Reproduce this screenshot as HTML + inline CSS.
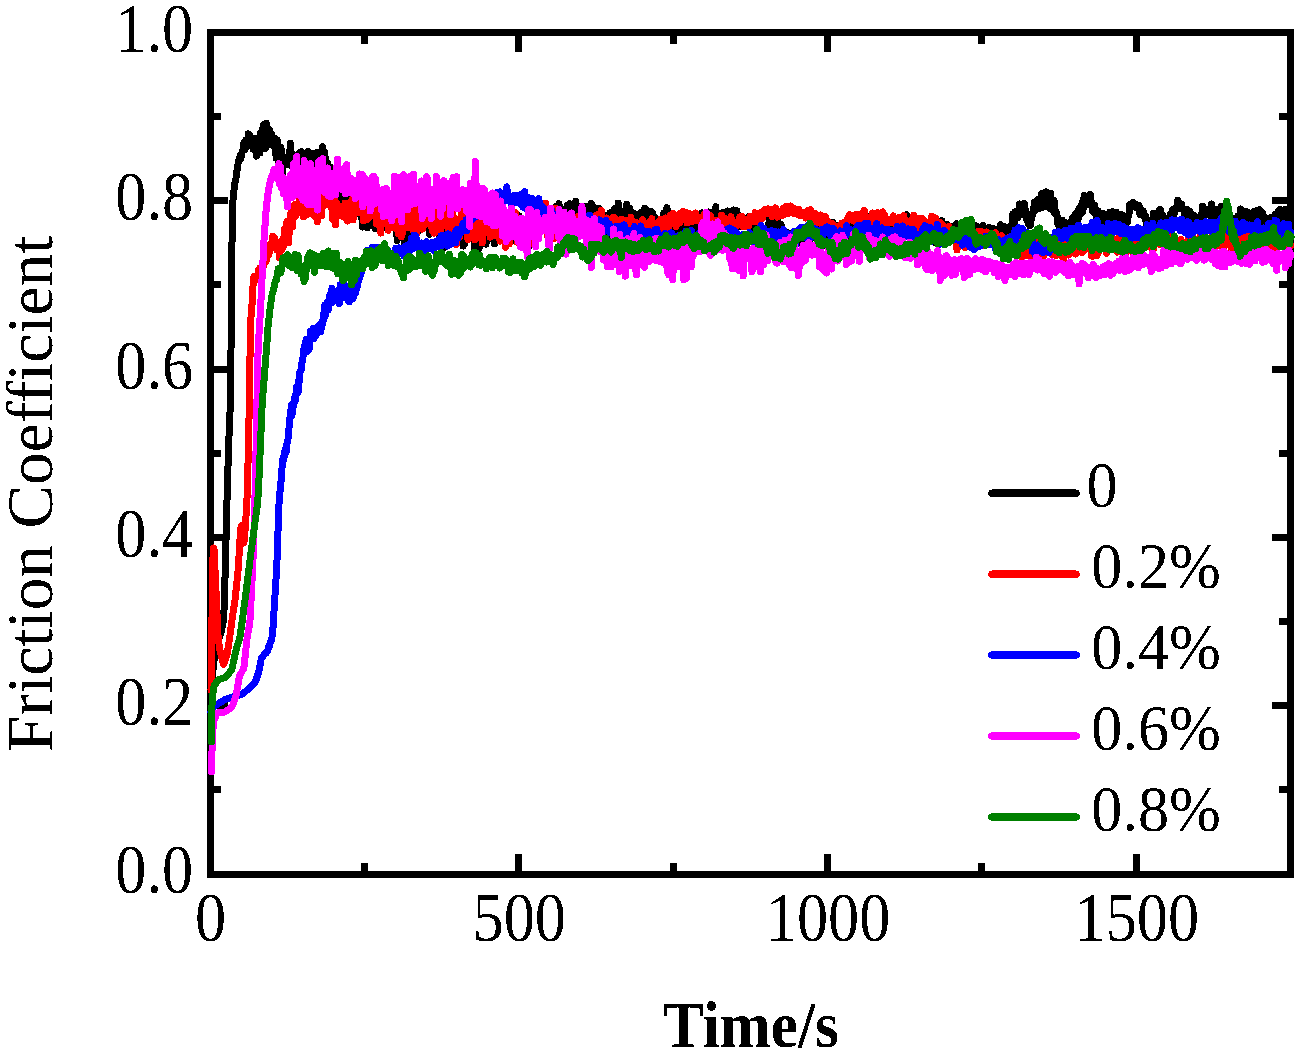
<!DOCTYPE html>
<html><head><meta charset="utf-8"><style>
html,body{margin:0;padding:0;background:#fff;}
svg{display:block;}
text{font-family:"Liberation Serif",serif;font-variant-ligatures:none;}
</style></head><body>
<svg width="1306" height="1054" viewBox="0 0 1306 1054">
<defs><filter id="bin" x="0" y="0" width="100%" height="100%" filterUnits="userSpaceOnUse"><feComponentTransfer><feFuncA type="discrete" tableValues="0 1"/></feComponentTransfer></filter></defs>
<rect width="1306" height="1054" fill="#fff"/>
<rect x="210" y="32.5" width="1080.5" height="841.5" fill="none" stroke="#000" stroke-width="7" shape-rendering="crispEdges"/>
<path d="M364.2 871V862.5M364.2 35V43.5M518.6 871V854M518.6 35V52M673.0 871V862.5M673.0 35V43.5M827.3 871V854M827.3 35V52M981.7 871V862.5M981.7 35V43.5M1136.1 871V854M1136.1 35V52M212 789.7H221M1288 789.7H1279M212 705.5H228M1288 705.5H1272M212 621.4H221M1288 621.4H1279M212 537.3H228M1288 537.3H1272M212 453.1H221M1288 453.1H1279M212 369.0H228M1288 369.0H1272M212 284.9H221M1288 284.9H1279M212 200.8H228M1288 200.8H1272M212 116.6H221M1288 116.6H1279" stroke="#000" stroke-width="7" stroke-linecap="butt" fill="none" shape-rendering="crispEdges"/>
<g fill="#000" filter="url(#bin)"><text transform="translate(193.20,893.30) scale(0.89,1)" font-size="70" text-anchor="end">0.0</text><text transform="translate(193.20,725.04) scale(0.89,1)" font-size="70" text-anchor="end">0.2</text><text transform="translate(193.20,556.78) scale(0.89,1)" font-size="70" text-anchor="end">0.4</text><text transform="translate(193.20,388.52) scale(0.89,1)" font-size="70" text-anchor="end">0.6</text><text transform="translate(193.20,220.26) scale(0.89,1)" font-size="70" text-anchor="end">0.8</text><text transform="translate(193.20,52.00) scale(0.89,1)" font-size="70" text-anchor="end">1.0</text><text transform="translate(210.50,941.20) scale(0.89,1)" font-size="70" text-anchor="middle">0</text><text transform="translate(519.27,941.20) scale(0.89,1)" font-size="70" text-anchor="middle">500</text><text transform="translate(828.04,941.20) scale(0.89,1)" font-size="70" text-anchor="middle">1000</text><text transform="translate(1136.81,941.20) scale(0.89,1)" font-size="70" text-anchor="middle">1500</text>
<text transform="translate(52.1,752) rotate(-90) scale(0.991,1)" font-size="66" style="font-variant-ligatures:none">Friction Coefficient</text>
<text transform="translate(663.08,1046.80) scale(0.93,1)" font-size="65.85" font-weight="bold">Time/s</text></g>
<g fill="none" stroke-width="7" stroke-linejoin="round" stroke-linecap="round" shape-rendering="crispEdges"><path d="M210.0 712.0l0.6 -9.1 0.6 -9 0.7 -8.6 0.6 -8.2 0.6 -7.9 0.6 -5.5 0.6 -5.6 0.6 -5.6 0.7 -2.5 0.6 -2.3 0.6 -2.3 0.6 -2.2 0.6 -2.3 0.6 -1.6 0.7 -1.7 0.6 -1.6 0.6 -1.7 0.6 -1.9 0.6 -3.2 0.7 -3.3 0.6 -3.5 0.6 -3.7 0.6 -13.2 0.6 -19.6 0.6 -24 0.7 -25 0.6 -25.3 0.6 -23 0.6 -18.9 0.6 -19.8 0.6 -16.4 0.7 -16.2 0.6 -14.1 0.6 -52.3 0.6 -65.2 0.6 -62.3 0.6 -21 0.7 -7.1 0.6 -6.5 0.6 -4.3 0.6 -3.9 0.6 -1.4 0.7 -6.6 0.6 -3.3 0.6 -3.5 0.6 -4.4 0.6 0.6 0.6 -2.7 0.7 -4.4 0.6 3.7 0.6 -2.7 0.6 -3.5 0.6 -2.6 0.6 0.6 0.7 -8 0.6 6 0.6 1.3 0.6 -9.6 0.6 6.9 0.7 -7.5 0.6 2.3 0.6 -8 0.6 2 0.6 2.8 0.6 -3.1 0.7 7.7 0.6 -5.7 0.6 8.3 0.6 -4.7 0.6 8 0.6 -3 0.7 -7.1 0.6 6.1 0.6 4.6 0.6 6.4 0.6 -17.8 0.7 15.4 0.6 -0.6 0.6 -5.2 0.6 -7.8 0.6 12.8 0.6 -19.7 0.7 10.4 0.6 3.2 0.6 -17.6 0.6 7.5 0.6 -11.9 0.6 10.6 0.7 13 0.6 -0.2 0.6 -25 0.6 9.3 0.6 6.4 0.6 6 0.7 -5.8 0.6 -9.4 0.6 9 0.6 0.5 0.6 -3 0.7 -1.8 0.6 11 0.6 -0.4 0.6 -0.9 0.6 1.2 0.6 -7.2 0.7 7.9 0.6 11.9 0.6 -11.3 0.6 -6.4 0.6 19.8 0.6 -3.2 0.7 8.2 0.6 -11.6 0.6 0 0.6 -5.8 0.6 19.4 0.7 10.1 0.6 -21.3 0.6 2 0.6 6.1 0.6 -6.6 0.6 2.4 0.7 -2.4 0.6 2.7 0.6 4.6 0.6 -5.7 0.6 5.8 0.6 -10.8 0.7 2.7 0.6 -13.4 0.6 4.9 0.6 13 0.6 -2.3 0.7 8.6 0.6 -1 0.6 5.5 0.6 -0.6 0.6 1.1 0.6 -11.4 0.7 -3.7 0.6 -0.5 0.6 5.9 0.6 -8.8 0.6 6.7 0.6 1.7 0.7 3.8 0.6 -4.9 0.6 -9.6 0.6 13.3 0.6 1.3 0.6 7.2 0.7 -4 0.6 -9.1 0.6 -1.6 0.6 15.3 0.6 -8.3 0.7 9.7 0.6 -1.4 0.6 -22.5 0.6 7.6 0.6 4.7 0.6 3 0.7 2.8 0.6 0.5 0.6 -2.6 0.6 -10.8 0.6 1.6 0.6 -5.1 0.7 7.3 0.6 -7.5 0.6 2.4 0.6 -1.1 0.6 -1.7 0.7 3.9 0.6 5.7 0.6 0.2 0.6 -2.1 0.6 -7.9 0.6 6.9 0.7 0.8 0.6 0 0.6 -13.4 0.6 14.4 0.6 -10.2 0.6 0.5 0.7 5.7 0.6 1.2 0.6 6.8 0.6 -3.1 0.6 2.4 0.7 -0.9 0.6 12.5 0.6 -6.6 0.6 -2.8 0.6 8.7 0.6 -7.6 0.7 22.3 0.6 -20.3 0.6 12.2 0.6 2.5 0.6 -12.7 0.6 13.3 0.7 8.7 0.6 -1 0.6 -3.4 0.6 7.1 0.6 -10.4 0.6 4.1 0.7 4.3 0.6 6.3 0.6 -10.2 0.6 12.3 0.6 -7.1 0.7 -5.6 0.6 12.2 0.6 8.6 0.6 -6.3 0.6 -9.9 0.6 8.8 0.7 -12.6 0.6 8.8 0.6 2.3 0.6 -21.4 0.6 21.6 0.6 -8.1 0.7 3.5 0.6 -3 0.6 -2.2 0.6 -3.2 0.6 13.7 0.7 8 0.6 -8 0.6 6.9 0.6 -9.1 0.6 -9.3 0.6 14.9 0.7 2.2 0.6 -5 0.6 2.9 0.6 6.8 0.6 -12.4 0.6 -3.8 0.7 8.4 0.6 -1.4 0.6 1.1 0.6 12.6 0.6 9.4 0.7 -13.6 0.6 6.5 0.6 3.9 0.6 -5.7 0.6 2.6 0.6 -8.6 0.7 9.5 0.6 5.9 0.6 -12.5 0.6 -5 0.6 7.4 0.6 0.3 0.7 -9 0.6 -5.7 0.6 18.8 0.6 -19.1 0.6 15.9 0.6 -2.8 0.7 -6.9 0.6 19.6 0.6 -7.3 0.6 -9.8 0.6 11.3 0.7 -8.7 0.6 -8.2 0.6 6.4 0.6 7.3 0.6 0.8 0.6 -3 0.7 -1.7 0.6 6.5 0.6 -4.1 0.6 10.2 0.6 -2.4 0.6 -6.8 0.7 -0.6 0.6 -17.9 0.6 3.5 0.6 17.7 0.6 -5.8 0.7 -3 0.6 2.5 0.6 -0.4 0.6 6.3 0.6 -7.2 0.6 3.8 0.7 -11.4 0.6 19.2 0.6 -13.7 0.6 -6.4 0.6 10.3 0.6 -2.9 0.7 7.4 0.6 -11.5 0.6 8 0.6 23.7 0.6 -33.1 0.7 11.8 0.6 -5.3 0.6 4 0.6 -14.9 0.6 0.6 0.6 13.8 0.7 -5.5 0.6 11.7 0.6 -13.5 0.6 6.6 0.6 26.6 0.6 -29.1 0.7 -2.8 0.6 6.5 0.6 3.8 0.6 5.5 0.6 -8.7 0.6 -2.7 0.7 4.3 0.6 16.4 0.6 -6.8 0.6 -29.5 0.6 17.2 0.7 -3.5 0.6 9.9 0.6 -4.4 0.6 12 0.6 -6.8 0.6 -2.8 0.7 -8.4 0.6 3.9 0.6 4.2 0.6 9.2 0.6 -7.7 0.6 -5.8 0.7 10.8 0.6 -10.8 0.6 0.1 0.6 -6.4 0.6 1.5 0.7 -3.9 0.6 -11.3 0.6 28.5 0.6 -1.7 0.6 -7.5 0.6 7.6 0.7 -0.5 0.6 -1 0.6 -18.3 0.6 15.7 0.6 2.4 0.6 11.7 0.7 -3.6 0.6 -1.8 0.6 -17.4 0.6 -10.9 0.6 20.3 0.7 -1.8 0.6 6.8 0.6 -9.1 0.6 4 0.6 -8.4 0.6 13.9 0.7 -1.5 0.6 7.3 0.6 2.3 0.6 -0.9 0.6 0.4 0.6 -4.1 0.7 6.1 0.6 -0.9 0.6 -3.8 0.6 1.9 0.6 15.2 0.6 -12.9 0.7 5.8 0.6 -5.8 0.6 -8.2 0.6 0.6 0.6 4 0.7 -0.4 0.6 2.4 0.6 -14.2 0.6 3.7 0.6 -2.4 0.6 12.6 0.7 -27 0.6 19.5 0.6 -5.3 0.6 1.8 0.6 0.6 0.6 6.2 0.7 8.5 0.6 -12.7 0.6 2.5 0.6 1 0.6 -8.3 0.7 9.6 0.6 -1.5 0.6 -4.9 0.6 2.9 0.6 2.4 0.6 7.3 0.7 -5.8 0.6 2.6 0.6 13.2 0.6 -4 0.6 2.2 0.6 -5.8 0.7 -4.5 0.6 -2 0.6 -1 0.6 7.3 0.6 -4.8 0.7 -9.6 0.6 10.9 0.6 -7.3 0.6 10.7 0.6 -8.1 0.6 -1.8 0.7 8.2 0.6 1.1 0.6 -15.9 0.6 16.9 0.6 16.8 0.6 -28.9 0.7 25.3 0.6 -21.5 0.6 2.1 0.6 6 0.6 -5.2 0.6 15.1 0.7 -9.2 0.6 -12 0.6 5 0.6 -9.2 0.6 7.7 0.7 9.1 0.6 -16.4 0.6 9.6 0.6 4 0.6 1.5 0.6 5.7 0.7 -19.1 0.6 1.5 0.6 6.3 0.6 -5.7 0.6 -0.8 0.6 8.4 0.7 4.3 0.6 -9.8 0.6 -5.4 0.6 7.6 0.6 -17.3 0.7 16 0.6 -7.1 0.6 20.9 0.6 -9.6 0.6 -1.4 0.6 -4.6 0.7 -15.7 0.6 24.8 0.6 3.3 0.6 -17.4 0.6 9.9 0.6 -2.6 0.7 -20.5 0.6 12.9 0.6 4.8 0.6 -4.7 0.6 0.3 0.7 7.1 0.6 -17.7 0.6 12.9 0.6 9.6 0.6 -16.4 0.6 17.2 0.7 -10 0.6 -10.1 0.6 13.7 0.6 -9.3 0.6 12.2 0.6 -11.8 0.7 14.2 0.6 -12.7 0.6 8.4 0.6 -5 0.6 1.7 0.6 13.3 0.7 -6 0.6 -5.2 0.6 -13 0.6 15.2 0.6 -3.1 0.7 -8.6 0.6 2 0.6 -6.1 0.6 3.1 0.6 6 0.6 10 0.7 -2.7 0.6 -6.4 0.6 5.7 0.6 1.9 0.6 -3.3 0.6 3.6 0.7 -8.9 0.6 0.3 0.6 1.9 0.6 0 0.6 12.3 0.7 -11.8 0.6 18.3 0.6 -14.6 0.6 1.9 0.6 -3.3 0.6 10.1 0.7 3.9 0.6 -2.8 0.6 -1.1 0.6 -16.1 0.6 5.2 0.6 -2.2 0.7 -3.9 0.6 15.1 0.6 -9.1 0.6 -3.6 0.6 5.8 0.7 -8.6 0.6 2 0.6 -5.9 0.6 8.3 0.6 -4.3 0.6 -1.9 0.7 4.1 0.6 -11.8 0.6 1.1 0.6 1.8 0.6 -10 0.6 5 0.7 6.5 0.6 6.2 0.6 1.3 0.6 -7 0.6 -2.7 0.6 13 0.7 -3.8 0.6 2.3 0.6 5.9 0.6 -7.7 0.6 -4.9 0.7 1.6 0.6 6.2 0.6 -2.9 0.6 -3.3 0.6 -1.1 0.6 -14.2 0.7 5.8 0.6 3.9 0.6 -9.1 0.6 -3.5 0.6 5.1 0.6 2 0.7 3.1 0.6 -4.2 0.6 8.3 0.6 8.6 0.6 -14.3 0.7 9 0.6 -5.7 0.6 -5.8 0.6 2.1 0.6 -1.4 0.6 8.8 0.7 -14.1 0.6 17.1 0.6 -5 0.6 -13.3 0.6 15.5 0.6 6.8 0.7 -10.6 0.6 12 0.6 -14.1 0.6 7.4 0.6 -14.1 0.7 12.3 0.6 -14.2 0.6 -3.3 0.6 17 0.6 7.5 0.6 -17.4 0.7 5.9 0.6 -5.1 0.6 -1.9 0.6 7.2 0.6 8.7 0.6 -17.1 0.7 8.7 0.6 2.5 0.6 -7.5 0.6 16.6 0.6 -3.2 0.6 -17.1 0.7 15 0.6 -9.7 0.6 3.3 0.6 9 0.6 -6.1 0.7 -1.7 0.6 4.2 0.6 -2.2 0.6 -2.9 0.6 -11.9 0.6 0.3 0.7 14.7 0.6 -8.2 0.6 2.9 0.6 -5.5 0.6 5.2 0.6 -2.3 0.7 14.3 0.6 -12.9 0.6 2.8 0.6 0.5 0.6 7.8 0.7 -14.6 0.6 6.1 0.6 -0.8 0.6 4.9 0.6 -2.5 0.6 -2.8 0.7 2.9 0.6 0.7 0.6 6.8 0.6 -4 0.6 -4.4 0.6 7.7 0.7 2.7 0.6 9.9 0.6 -15.2 0.6 3.2 0.6 6.8 0.7 -17 0.6 -0.6 0.6 4.8 0.6 5.3 0.6 10.3 0.6 -8.7 0.7 3.3 0.6 -6.1 0.6 -12.8 0.6 1 0.6 13.1 0.6 -3.6 0.7 -10.6 0.6 12.5 0.6 -18.2 0.6 13.7 0.6 3.4 0.6 -9.9 0.7 0.9 0.6 7.7 0.6 -6.4 0.6 12.9 0.6 -12.8 0.7 8.4 0.6 -4.6 0.6 -2.4 0.6 -1.8 0.6 1 0.6 -8.9 0.7 8 0.6 -2.2 0.6 7.8 0.6 -9.9 0.6 17.4 0.6 -8.8 0.7 -4.7 0.6 15.1 0.6 2.9 0.6 -10.3 0.6 -6.7 0.7 3.7 0.6 -2 0.6 1.6 0.6 13 0.6 -5.4 0.6 -0.9 0.7 1.7 0.6 -3.9 0.6 4.3 0.6 -1.1 0.6 -10.6 0.6 -0.7 0.7 13.7 0.6 -10.3 0.6 -2.7 0.6 8.9 0.6 -10.6 0.7 -3.3 0.6 9.7 0.6 -8.4 0.6 5.6 0.6 4.3 0.6 -2.7 0.7 -0.6 0.6 -2.2 0.6 1.3 0.6 6.9 0.6 -10.6 0.6 0 0.7 13.9 0.6 -12.2 0.6 11.2 0.6 0 0.6 -4.3 0.6 -3 0.7 10.6 0.6 2.3 0.6 0.4 0.6 -6.9 0.6 6.8 0.7 0.8 0.6 -10.6 0.6 8.6 0.6 -1.1 0.6 -6.5 0.6 1.2 0.7 12.7 0.6 -7.4 0.6 -15 0.6 5.5 0.6 -3.5 0.6 -3.3 0.7 -0.7 0.6 -3.4 0.6 11.6 0.6 -5.9 0.6 5.9 0.7 -1 0.6 -0.9 0.6 7 0.6 -2.5 0.6 -2.5 0.6 -0.8 0.7 1.7 0.6 6.8 0.6 -3 0.6 -0.2 0.6 -2.2 0.6 0.3 0.7 5.1 0.6 -8.3 0.6 14.2 0.6 -12.4 0.6 2.4 0.7 8.5 0.6 -4 0.6 -0.5 0.6 -2.2 0.6 -5.3 0.6 9.1 0.7 5.8 0.6 -13.7 0.6 9.5 0.6 -14.4 0.6 5.5 0.6 6.7 0.7 -1.9 0.6 3.7 0.6 -8.3 0.6 -2.9 0.6 -2.5 0.6 2.4 0.7 3.5 0.6 -1.8 0.6 8.4 0.6 -5.8 0.6 -7.1 0.7 22.1 0.6 -14 0.6 1.8 0.6 9.4 0.6 -0.6 0.6 -10.8 0.7 -4.1 0.6 0.6 0.6 9.3 0.6 -12.1 0.6 -1.2 0.6 3.8 0.7 5.8 0.6 -12.7 0.6 5.4 0.6 -0.6 0.6 17.3 0.7 -0.7 0.6 -5.8 0.6 -5.1 0.6 2.7 0.6 -14 0.6 9.4 0.7 -9.5 0.6 0.9 0.6 4.1 0.6 2.3 0.6 2.8 0.6 1 0.7 -7 0.6 -3.8 0.6 7.5 0.6 -3.3 0.6 8 0.7 -10.7 0.6 -7 0.6 9.4 0.6 12.8 0.6 -8.8 0.6 -2.7 0.7 7.1 0.6 -3.3 0.6 -1.6 0.6 -4.9 0.6 3.3 0.6 5.3 0.7 -5 0.6 -5.8 0.6 4.6 0.6 1.2 0.6 -2 0.6 -0.1 0.7 -1.2 0.6 8.5 0.6 -12.6 0.6 4.5 0.6 3.5 0.7 -5.6 0.6 3.3 0.6 2.3 0.6 2.7 0.6 -5.3 0.6 2 0.7 -3.5 0.6 -5 0.6 13.3 0.6 -5.6 0.6 -5.4 0.6 6.8 0.7 -8.2 0.6 4.9 0.6 4.8 0.6 -3.3 0.6 9.4 0.7 -9 0.6 4 0.6 2.2 0.6 2.9 0.6 -1.7 0.6 -3.6 0.7 -1.6 0.6 1.3 0.6 4.9 0.6 -7.1 0.6 4.5 0.6 -1.8 0.7 1.6 0.6 -5.1 0.6 8.6 0.6 -10.3 0.6 5.3 0.7 2.7 0.6 0.3 0.6 2.7 0.6 0.3 0.6 3 0.6 -9.9 0.7 5.1 0.6 -2.3 0.6 5.3 0.6 -5.1 0.6 2.6 0.6 5.8 0.7 3.1 0.6 -3.2 0.6 -0.9 0.6 6.6 0.6 -5.1 0.6 -4.6 0.7 6 0.6 1.3 0.6 6.5 0.6 1.4 0.6 -10.8 0.7 11 0.6 -6.2 0.6 -4.6 0.6 -1.2 0.6 8.5 0.6 -11.5 0.7 -4.2 0.6 2.6 0.6 -9.7 0.6 8.1 0.6 0 0.6 -2 0.7 1.9 0.6 -4.7 0.6 11.1 0.6 -7.5 0.6 6.8 0.7 -8.3 0.6 8.6 0.6 -3.7 0.6 3.3 0.6 -4.3 0.6 -4.5 0.7 4.1 0.6 7 0.6 2 0.6 -7.6 0.6 -3.2 0.6 5.6 0.7 2.1 0.6 -2.4 0.6 1.7 0.6 8.4 0.6 -0.5 0.6 -2.4 0.7 -4.4 0.6 2.3 0.6 2.9 0.6 -4.9 0.6 9.2 0.7 -4.9 0.6 -2.3 0.6 8.1 0.6 -2 0.6 -0.7 0.6 4.4 0.7 -1.1 0.6 -7.9 0.6 1.9 0.6 4.3 0.6 -4.8 0.6 1.5 0.7 1.1 0.6 2.3 0.6 1.1 0.6 -1.9 0.6 -2.9 0.7 4.5 0.6 -2.6 0.6 -1.8 0.6 6.4 0.6 -5.1 0.6 -3.8 0.7 11.1 0.6 -5.9 0.6 3.3 0.6 -10 0.6 5.5 0.6 -4.5 0.7 0.6 0.6 -3.9 0.6 12.5 0.6 -6.9 0.6 0.7 0.7 1.5 0.6 -4.5 0.6 0.8 0.6 -6.2 0.6 5.4 0.6 -2.8 0.7 4.2 0.6 -3 0.6 -4.2 0.6 -4.5 0.6 5.4 0.6 6.5 0.7 -1.6 0.6 -1.1 0.6 -7.8 0.6 -2.7 0.6 7.2 0.6 2.5 0.7 -1.7 0.6 3.1 0.6 -1.3 0.6 -2.2 0.6 0.7 0.7 3.7 0.6 -0.4 0.6 0.4 0.6 10.1 0.6 -10.6 0.6 0.9 0.7 -4.2 0.6 2.9 0.6 4.9 0.6 -0.2 0.6 -2.7 0.6 3.2 0.7 -3.4 0.6 -8.3 0.6 -5.8 0.6 19.9 0.6 -5.1 0.7 -4.1 0.6 -3.6 0.6 0.4 0.6 9 0.6 -13.4 0.6 9.6 0.7 3.9 0.6 -2.3 0.6 3 0.6 -3.6 0.6 8.8 0.6 -13.1 0.7 -1.4 0.6 3.3 0.6 2.8 0.6 -6.8 0.6 5.8 0.7 -6.3 0.6 -1.8 0.6 7.9 0.6 0.5 0.6 -0.4 0.6 -8.1 0.7 -1.2 0.6 -2.3 0.6 4.6 0.6 6.7 0.6 -1.5 0.6 -7 0.7 3.6 0.6 -0.5 0.6 -2.1 0.6 0.8 0.6 -1.1 0.6 0.5 0.7 -3.1 0.6 -1.4 0.6 -3 0.6 5.7 0.6 -1.9 0.7 -8.3 0.6 8.6 0.6 -1.9 0.6 1.4 0.6 -2.3 0.6 1.4 0.7 -1.9 0.6 1.6 0.6 -3.3 0.6 -4.4 0.6 15.3 0.6 -14.1 0.7 2.4 0.6 2.8 0.6 -1.7 0.6 1.3 0.6 0.8 0.7 1.8 0.6 -3.3 0.6 9.8 0.6 -14.5 0.6 5.7 0.6 -1.5 0.7 -1.4 0.6 6.1 0.6 2.9 0.6 -6.2 0.6 -0.7 0.6 6.1 0.7 0.4 0.6 6.5 0.6 -1.1 0.6 -4.1 0.6 2.1 0.7 2.3 0.6 -2.8 0.6 -6.2 0.6 8.2 0.6 1.4 0.6 -0.6 0.7 0 0.6 9 0.6 -3.9 0.6 -0.2 0.6 -6 0.6 -0.7 0.7 2.3 0.6 -0.2 0.6 -1.3 0.6 -2.2 0.6 3 0.6 -0.6 0.7 -4.4 0.6 2.2 0.6 -0.8 0.6 4.3 0.6 -5.2 0.7 0.6 0.6 3.5 0.6 -6.7 0.6 -6 0.6 3.9 0.6 4.4 0.7 0.8 0.6 1.3 0.6 -3.2 0.6 -2.6 0.6 8.8 0.6 -5.2 0.7 -0.2 0.6 0.1 0.6 -4.2 0.6 2.2 0.6 3.3 0.7 1.4 0.6 -3.3 0.6 -12.2 0.6 9.2 0.6 4.2 0.6 3.1 0.7 -3.3 0.6 6.7 0.6 -4.9 0.6 0.9 0.6 0 0.6 -6.7 0.7 6.5 0.6 -0.9 0.6 -1.3 0.6 3.6 0.6 1.2 0.7 -1.2 0.6 -1.1 0.6 1.1 0.6 2.5 0.6 -1.4 0.6 5.4 0.7 -8.7 0.6 5.4 0.6 -4.6 0.6 3.3 0.6 3.9 0.6 -5 0.7 1.8 0.6 -0.5 0.6 5.9 0.6 -9.4 0.6 7 0.6 -8.7 0.7 3.6 0.6 -0.3 0.6 -4.4 0.6 5.5 0.6 0.4 0.7 -8.3 0.6 7.1 0.6 0.5 0.6 -3.6 0.6 5.9 0.6 -2.1 0.7 8.4 0.6 -7.5 0.6 8.6 0.6 -10.3 0.6 7.6 0.6 -7.2 0.7 2.1 0.6 0.6 0.6 0.1 0.6 2.2 0.6 1.2 0.7 -6.7 0.6 -4.2 0.6 -7.2 0.6 10.8 0.6 3.1 0.6 -2 0.7 -1.9 0.6 -2.2 0.6 -0.8 0.6 2.6 0.6 1 0.6 -7 0.7 8.2 0.6 -5.9 0.6 3 0.6 -1.3 0.6 2.2 0.7 -4.2 0.6 0 0.6 3.8 0.6 -4 0.6 12.7 0.6 -8.6 0.7 -0.4 0.6 -0.1 0.6 -1.9 0.6 -4.2 0.6 9.8 0.6 3.1 0.7 -5.6 0.6 7.4 0.6 -6.8 0.6 1.9 0.6 -2 0.6 1.6 0.7 -3.4 0.6 -4.1 0.6 6.9 0.6 -6.7 0.6 2 0.7 1.1 0.6 -2.4 0.6 -5.6 0.6 7.4 0.6 -5.1 0.6 1.1 0.7 -0.4 0.6 8.7 0.6 -3.4 0.6 -7.6 0.6 10 0.6 5.6 0.7 -1.6 0.6 -7.7 0.6 2.3 0.6 2.8 0.6 0 0.7 -3.2 0.6 -3.8 0.6 6.9 0.6 0.8 0.6 -6.8 0.6 4.3 0.7 4.5 0.6 -0.5 0.6 -0.3 0.6 -1.5 0.6 -0.3 0.6 -3.3 0.7 -4.4 0.6 6.5 0.6 4.2 0.6 3.3 0.6 -9.3 0.7 0.2 0.6 4.9 0.6 -1.8 0.6 -2.8 0.6 1.3 0.6 -4.4 0.7 8.3 0.6 -3.3 0.6 3.7 0.6 -0.7 0.6 -3.1 0.6 -4.2 0.7 3.6 0.6 3.7 0.6 -2.4 0.6 -1.4 0.6 5.9 0.6 -0.2 0.7 -0.3 0.6 -6.1 0.6 2.8 0.6 -3.1 0.6 -3.8 0.7 -2.2 0.6 5.5 0.6 -3 0.6 10.3 0.6 -8.3 0.6 0.1 0.7 0.3 0.6 6.9 0.6 -9.5 0.6 4.5 0.6 -1.2 0.6 1.6 0.7 1.1 0.6 3.5 0.6 -9 0.6 1.5 0.6 5.8 0.7 -9.4 0.6 0.3 0.6 -2.8 0.6 -8.7 0.6 6.7 0.6 3.2 0.7 -5.6 0.6 -6.6 0.6 4.7 0.6 -2.4 0.6 3.2 0.6 0.4 0.7 -5.8 0.6 1 0.6 -9 0.6 9.9 0.6 -4 0.7 3.3 0.6 0.9 0.6 -4 0.6 1.1 0.6 -3.4 0.6 -4.3 0.7 6.6 0.6 3.2 0.6 -1.2 0.6 8.2 0.6 1.3 0.6 1.9 0.7 -3.6 0.6 -4.1 0.6 10.2 0.6 -2.9 0.6 -4.2 0.6 -2.2 0.7 -1.6 0.6 -2.8 0.6 -3 0.6 -7.1 0.6 8.3 0.7 -8.8 0.6 2.1 0.6 -2 0.6 3.7 0.6 -5.8 0.6 9.2 0.7 -3.9 0.6 -0.8 0.6 1.8 0.6 -6.8 0.6 -5.7 0.6 11.1 0.7 2.9 0.6 -1.8 0.6 -6.7 0.6 0.3 0.6 -0.8 0.7 -6.6 0.6 3.6 0.6 2 0.6 7.9 0.6 -7 0.6 9.5 0.7 -7.5 0.6 -7 0.6 15.9 0.6 -10.3 0.6 4.6 0.6 5.1 0.7 -7.1 0.6 -0.8 0.6 12.6 0.6 -2.1 0.6 0.3 0.7 2.2 0.6 2.8 0.6 7.4 0.6 -2.9 0.6 5.4 0.6 6.3 0.7 0 0.6 2 0.6 -3.3 0.6 -11.3 0.6 10.8 0.6 -2.9 0.7 -0.6 0.6 -4 0.6 -0.6 0.6 3.6 0.6 3.6 0.6 -4 0.7 0.8 0.6 0.9 0.6 3.7 0.6 -5.2 0.6 -0.2 0.7 4.4 0.6 -9 0.6 2.9 0.6 -6.8 0.6 4.4 0.6 -2.4 0.7 0.1 0.6 -2.3 0.6 -3.9 0.6 2.3 0.6 -0.4 0.6 5.5 0.7 -2.6 0.6 -9.7 0.6 5.7 0.6 -6.2 0.6 6 0.7 -5.4 0.6 -5.5 0.6 9 0.6 -3.6 0.6 -9.9 0.6 -3.2 0.7 3.1 0.6 -2.4 0.6 1.5 0.6 3.1 0.6 3.7 0.6 -5.7 0.7 5.5 0.6 -0.8 0.6 -5.9 0.6 -3.2 0.6 9.7 0.7 -1.6 0.6 8.1 0.6 -3.2 0.6 0.7 0.6 4.4 0.6 -6.9 0.7 6.6 0.6 0.8 0.6 10.2 0.6 -1.4 0.6 -10.6 0.6 15.9 0.7 -10 0.6 5.9 0.6 -7.4 0.6 -0.3 0.6 1.4 0.6 -1.5 0.7 -1.7 0.6 9.4 0.6 -2 0.6 -2 0.6 3.1 0.7 -3 0.6 9.1 0.6 -5.7 0.6 0.4 0.6 -1.6 0.6 -5.9 0.7 -3 0.6 5.6 0.6 0.1 0.6 2.7 0.6 -2.6 0.6 -6.3 0.7 7.2 0.6 3.6 0.6 1 0.6 -3.7 0.6 -7.8 0.7 11.2 0.6 -6.4 0.6 3.1 0.6 -6 0.6 6.1 0.6 -5.9 0.7 6.6 0.6 2.2 0.6 -3.3 0.6 -4.7 0.6 0.4 0.6 1 0.7 5.7 0.6 -3.2 0.6 -1.4 0.6 0.4 0.6 1.7 0.7 -0.9 0.6 3.6 0.6 -7.3 0.6 1.1 0.6 -11.4 0.6 2.3 0.7 0.9 0.6 -3 0.6 0.7 0.6 1.4 0.6 -4.4 0.6 3.2 0.7 -1.2 0.6 1.3 0.6 -1.7 0.6 3.7 0.6 -1.4 0.6 -0.1 0.7 0.8 0.6 -1.8 0.6 1.3 0.6 7.9 0.6 -4.7 0.7 4.4 0.6 -2.1 0.6 -0.2 0.6 -1 0.6 2 0.6 3.6 0.7 -0.1 0.6 -0.4 0.6 7.6 0.6 -3.8 0.6 4.7 0.6 -3.5 0.7 1.5 0.6 -2.1 0.6 5 0.6 8.7 0.6 -6.6 0.7 -0.7 0.6 -5.5 0.6 -0.3 0.6 -7.9 0.6 1.2 0.6 3.2 0.7 2.8 0.6 -3.5 0.6 1.2 0.6 -2.9 0.6 0.7 0.6 -3.4 0.7 -2.2 0.6 2.3 0.6 -2.9 0.6 3.7 0.6 0.7 0.7 0.8 0.6 6 0.6 -2.1 0.6 1.3 0.6 -2.5 0.6 2.5 0.7 4.1 0.6 -1.4 0.6 -2.6 0.6 -1.4 0.6 -0.7 0.6 -0.9 0.7 5 0.6 -7.7 0.6 2.8 0.6 -0.4 0.6 -2.9 0.6 -4.1 0.7 6.6 0.6 -2.8 0.6 -0.1 0.6 -3.1 0.6 -0.2 0.7 -3.2 0.6 1.9 0.6 -8.6 0.6 8.2 0.6 -5.2 0.6 3.1 0.7 0.1 0.6 -2.4 0.6 -0.1 0.6 5 0.6 0.4 0.6 -0.3 0.7 0.5 0.6 6.3 0.6 -2.4 0.6 0 0.6 -4.3 0.7 7.8 0.6 -7.3 0.6 6.3 0.6 -3.1 0.6 10.1 0.6 -11.4 0.7 12.7 0.6 -0.8 0.6 -9.1 0.6 7.2 0.6 6.1 0.6 -1.4 0.7 -10.6 0.6 5.4 0.6 -1.7 0.6 2.2 0.6 0.4 0.7 7.7 0.6 -7.6 0.6 -1.7 0.6 -2.1 0.6 4.1 0.6 -0.2 0.7 -7.9 0.6 3.8 0.6 -11.9 0.6 4.8 0.6 2.2 0.6 4.4 0.7 -8.2 0.6 3 0.6 1.4 0.6 -4.6 0.6 0.3 0.6 0.7 0.7 -1 0.6 2.7 0.6 1.5 0.6 -4.5 0.6 7.6 0.7 -12.6 0.6 4.4 0.6 8.9 0.6 -3.7 0.6 -4.2 0.6 3.5 0.7 1.3 0.6 -4.9 0.6 5 0.6 -1.2 0.6 -2.1 0.6 2.3 0.7 4.5 0.6 -7.8 0.6 1.9 0.6 3 0.6 -8.3 0.7 0.6 0.6 7.8 0.6 -0.5 0.6 0.9 0.6 0.6 0.6 -4 0.7 13.7 0.6 -12.2 0.6 2.3 0.6 -3.1 0.6 4.7 0.6 6.9 0.7 -2.5 0.6 0.6 0.6 -2.2 0.6 9.9 0.6 -7.8 0.7 -4 0.6 7.3 0.6 -3.1 0.6 1.5 0.6 -1.5 0.6 -1.1 0.7 -0.9 0.6 -1.8 0.6 -2.5 0.6 5.6 0.6 -5.7 0.6 0.2 0.7 -0.9 0.6 -6.3 0.6 0.8 0.6 11.5 0.6 -7.1 0.6 2.2 0.7 -4.8 0.6 5.6 0.6 0.4 0.6 -2.2 0.6 -0.8 0.7 -2.9 0.6 0.4 0.6 3.4 0.6 0.4 0.6 -2.2 0.6 10 0.7 -5.3 0.6 -0.9 0.6 -2.8 0.6 4.4 0.6 -6.5 0.6 -0.7 0.7 1.5 0.6 7.1 0.6 -6.8 0.6 9.1 0.6 -5.8 0.7 -6.5 0.6 2.6 0.6 7.8 0.6 -9.6 0.6 -1.5 0.6 5.4 0.7 1.8 0.6 -1.3 0.6 -3.5 0.6 2.9 0.6 0.1 0.6 4 0.7 6.4 0.6 -7.7 0.6 8.1 0.6 -5.3 0.6 5.2 0.7 -6.3 0.6 2.2 0.6 2.4 0.6 -4.4 0.6 5.8 0.6 -8.1 0.7 0.4 0.6 1.2 0.6 -0.2 0.6 3.4 0.6 3.5 0.6 3 0.7 -14.8 0.6 4.6 0.6 -2.2 0.6 -3.1 0.6 3.4 0.6 -5.2 0.7 5 0.6 5.5 0.6 -12.4 0.6 7.9 0.6 2.4 0.7 -4.3 0.6 5.8 0.6 -2.2 0.6 -2.8 0.6 4.4 0.6 -11.2 0.7 8.8 0.6 -3.1 0.6 -3 0.6 2.3 0.6 1 0.6 7.5 0.7 -7.3 0.6 6.1 0.6 -2.6" stroke="#000000"/>
<path d="M211.0 690.0l0.6 -42.8 0.6 -42.7 0.7 -45.6 0.6 -10.9 0.6 1.8 0.6 12.9 0.6 12.8 0.6 12.9 0.7 13.3 0.6 18.6 0.6 12.3 0.6 5.6 0.6 5.6 0.6 4.8 0.7 2.6 0.6 2.7 0.6 2.6 0.6 2.6 0.6 2.6 0.7 2.7 0.6 -0.7 0.6 -1.8 0.6 -1.8 0.6 -1.7 0.6 -1.8 0.7 -2 0.6 -3.9 0.6 -4 0.6 -3.9 0.6 -4 0.6 -4.7 0.7 -4.7 0.6 -4.7 0.6 -4.7 0.6 -4.1 0.6 -4.1 0.6 -4.1 0.7 -4.1 0.6 -4.4 0.6 -5.7 0.6 -5.8 0.6 -5.8 0.7 -5.7 0.6 -7 0.6 -9.8 0.6 -9.9 0.6 -9.9 0.6 -9.9 0.7 -3.9 0.6 4.3 0.6 4.4 0.6 4.3 0.6 4.3 0.6 -3.1 0.7 -8.8 0.6 -9.2 0.6 -8.6 0.6 -8.9 0.6 -18 0.7 -27.2 0.6 -25.5 0.6 -29.1 0.6 -41 0.6 -37.1 0.6 -11.2 0.7 -8.1 0.6 -7.5 0.6 -13.7 0.6 -7.9 0.6 -1.6 0.6 0.7 0.7 -0.9 0.6 1.8 0.6 1.1 0.6 -4.1 0.6 -0.6 0.7 -4.6 0.6 -1.3 0.6 3.7 0.6 1.6 0.6 -0.9 0.6 -1.7 0.7 -1.3 0.6 -0.5 0.6 -9.5 0.6 0.8 0.6 2.3 0.6 -0.9 0.7 -8.9 0.6 6.6 0.6 -6.4 0.6 -0.8 0.6 1.4 0.6 0.4 0.7 -9.2 0.6 4.5 0.6 -4.1 0.6 -3 0.6 0.2 0.7 -6.9 0.6 3.4 0.6 2.1 0.6 -3.9 0.6 2.8 0.6 1.4 0.7 3.8 0.6 4.4 0.6 -5.7 0.6 -0.3 0.6 6 0.6 7.4 0.7 -8.9 0.6 1.8 0.6 -9.6 0.6 9.2 0.6 -2.3 0.7 -1.3 0.6 -9 0.6 -8.5 0.6 8.7 0.6 -2.2 0.6 -10.4 0.7 -3.7 0.6 10.7 0.6 -5.4 0.6 16.4 0.6 -22.6 0.6 -2.4 0.7 -0.7 0.6 -9.2 0.6 5.1 0.6 13.5 0.6 -12.6 0.7 -5.7 0.6 -3.7 0.6 12.3 0.6 -1.5 0.6 -3.3 0.6 -4.8 0.7 4.3 0.6 1.2 0.6 -10.6 0.6 7.6 0.6 -15.9 0.6 3.7 0.7 8.7 0.6 3.7 0.6 -8.7 0.6 8.3 0.6 7.1 0.6 -7 0.7 -3.3 0.6 1.3 0.6 -2.4 0.6 -9.5 0.6 7.5 0.7 10.8 0.6 -19.1 0.6 10.6 0.6 -3.1 0.6 -4.3 0.6 2.6 0.7 7.9 0.6 2 0.6 1.4 0.6 -9 0.6 7.6 0.6 5.4 0.7 -0.8 0.6 -4.1 0.6 5.1 0.6 5.5 0.6 -2.9 0.7 -14.6 0.6 3.3 0.6 -8.4 0.6 -13.7 0.6 1.8 0.6 28.5 0.7 -24.2 0.6 -10.6 0.6 10.3 0.6 14.1 0.6 -12 0.6 3.7 0.7 -3.2 0.6 -1.6 0.6 10.2 0.6 -2.7 0.6 -5.3 0.7 9.7 0.6 0.9 0.6 -6.7 0.6 8.6 0.6 0.7 0.6 -3.9 0.7 15.4 0.6 -9.5 0.6 -4.3 0.6 -7.8 0.6 6.9 0.6 20.4 0.7 -22.2 0.6 10.4 0.6 -4.7 0.6 4.9 0.6 2.2 0.6 -9.2 0.7 3.6 0.6 5.8 0.6 -3.1 0.6 -2.6 0.6 -2.8 0.7 7.7 0.6 2.2 0.6 -7 0.6 -7 0.6 7.6 0.6 -0.7 0.7 2.3 0.6 8.7 0.6 -14.5 0.6 4 0.6 -7 0.6 1.6 0.7 -3.5 0.6 15.6 0.6 -9.9 0.6 -8.1 0.6 20.7 0.7 -26.3 0.6 19 0.6 -0.6 0.6 -4.8 0.6 -3.4 0.6 2.8 0.7 -2 0.6 7.6 0.6 -23.4 0.6 14.2 0.6 5.9 0.6 -3 0.7 -10.8 0.6 12.2 0.6 -3.4 0.6 9.3 0.6 7.3 0.7 -6.3 0.6 -15.1 0.6 9.6 0.6 -6.9 0.6 14.2 0.6 3.7 0.7 -13.9 0.6 12.7 0.6 -2.2 0.6 -3.9 0.6 -9.2 0.6 3.6 0.7 -12.2 0.6 17.4 0.6 -8 0.6 11.9 0.6 -6.6 0.6 -17.6 0.7 20.6 0.6 3.2 0.6 8.5 0.6 -20.6 0.6 2 0.7 6.3 0.6 -7.2 0.6 -2.2 0.6 2.8 0.6 27.9 0.6 -21 0.7 -4.3 0.6 2.5 0.6 2.5 0.6 10.9 0.6 -0.9 0.6 -1.1 0.7 -6.7 0.6 0.4 0.6 -7 0.6 -5.1 0.6 27 0.7 -18 0.6 11.5 0.6 -9.6 0.6 4.1 0.6 -1.3 0.6 -8.3 0.7 10.7 0.6 2 0.6 6.6 0.6 -2.2 0.6 1.6 0.6 -3.6 0.7 -1.3 0.6 -13.6 0.6 10 0.6 14.8 0.6 -10.6 0.7 2.3 0.6 -7.2 0.6 -3.3 0.6 22.1 0.6 -13.2 0.6 9.6 0.7 -10.1 0.6 -7.7 0.6 -13 0.6 20.4 0.6 -11 0.6 -8 0.7 24 0.6 -5 0.6 2 0.6 -5.6 0.6 -0.1 0.6 4.4 0.7 -1.2 0.6 -1 0.6 5.6 0.6 -22.5 0.6 25.3 0.7 -11.8 0.6 12.6 0.6 5 0.6 -11 0.6 9.3 0.6 -0.1 0.7 -11.7 0.6 -1.3 0.6 3.9 0.6 -19.1 0.6 11.3 0.6 3.7 0.7 -3.5 0.6 -10.6 0.6 8.3 0.6 14.3 0.6 -3 0.7 -12.9 0.6 -7.6 0.6 5.2 0.6 3.7 0.6 -7.9 0.6 4.9 0.7 6 0.6 1.2 0.6 -23.2 0.6 27.3 0.6 -4.7 0.6 8 0.7 -6.9 0.6 2.4 0.6 9.9 0.6 -32.7 0.6 34.2 0.7 -12.1 0.6 -11.8 0.6 -6.9 0.6 20.5 0.6 -8.8 0.6 17.7 0.7 -5 0.6 -5.2 0.6 8.6 0.6 -5.5 0.6 5.3 0.6 -2.2 0.7 -6.3 0.6 4.2 0.6 0.2 0.6 -15.2 0.6 10.6 0.6 -1.6 0.7 -3.9 0.6 -10 0.6 11 0.6 6.5 0.6 0.9 0.7 5.4 0.6 -15.3 0.6 3.4 0.6 1.7 0.6 0.5 0.6 1.8 0.7 -11.4 0.6 19.4 0.6 7.8 0.6 0.3 0.6 -19.6 0.6 10.7 0.7 15.6 0.6 -17.6 0.6 4.1 0.6 -6.2 0.6 8.9 0.7 -2.6 0.6 5.9 0.6 -12.1 0.6 -1.6 0.6 -12.4 0.6 6.5 0.7 -2.3 0.6 1.7 0.6 -6.3 0.6 20.4 0.6 -16.5 0.6 9.4 0.7 -11.3 0.6 15.2 0.6 12.1 0.6 -19.4 0.6 10 0.7 -2.3 0.6 3.5 0.6 0.8 0.6 -7.3 0.6 2.5 0.6 -2 0.7 -1 0.6 -2.1 0.6 17.4 0.6 -12.3 0.6 8.6 0.6 -3.5 0.7 -11.5 0.6 14.4 0.6 -13 0.6 9.8 0.6 5.2 0.6 -18.9 0.7 -1.7 0.6 -0.7 0.6 26.7 0.6 -19.9 0.6 -4 0.7 13.9 0.6 -10.6 0.6 3.3 0.6 -6.3 0.6 -6.3 0.6 9.7 0.7 -5.9 0.6 -1.1 0.6 4.4 0.6 -0.2 0.6 17.3 0.6 -0.9 0.7 -3.3 0.6 -7.2 0.6 -6.6 0.6 10 0.6 2.1 0.7 4.2 0.6 -8.1 0.6 -0.9 0.6 0.7 0.6 -7.6 0.6 4.6 0.7 11.3 0.6 -12.1 0.6 12.3 0.6 5.4 0.6 -6 0.6 -0.8 0.7 -12.7 0.6 8.8 0.6 -1.7 0.6 8.6 0.6 -2.9 0.7 -0.1 0.6 13 0.6 -10.7 0.6 -6.5 0.6 -3.2 0.6 3.8 0.7 -3.1 0.6 16.1 0.6 -7.5 0.6 -8.4 0.6 -4.3 0.6 -5.9 0.7 7.6 0.6 10.3 0.6 -2.5 0.6 -6.5 0.6 1.8 0.6 -15.5 0.7 20.9 0.6 -6.5 0.6 15 0.6 -12.4 0.6 -3.3 0.7 2.8 0.6 -2.3 0.6 13.2 0.6 -6.6 0.6 1.7 0.6 -3 0.7 -6.5 0.6 7.4 0.6 -2.5 0.6 8.9 0.6 -12.1 0.6 5 0.7 -5.6 0.6 1.3 0.6 2.4 0.6 14.7 0.6 -9.3 0.7 4.4 0.6 -9.4 0.6 -2.1 0.6 -13.6 0.6 18.5 0.6 6.5 0.7 -13.5 0.6 10.8 0.6 -8.7 0.6 -11.9 0.6 10.6 0.6 -11.9 0.7 2.8 0.6 9.4 0.6 -8.1 0.6 -7.2 0.6 16.3 0.7 -17.5 0.6 7.8 0.6 -2.9 0.6 1.9 0.6 -5.7 0.6 -5.2 0.7 21.6 0.6 -19 0.6 0.1 0.6 -6.7 0.6 14.1 0.6 10.9 0.7 2 0.6 10.7 0.6 -8.7 0.6 -5 0.6 -2.2 0.6 11.2 0.7 -9.9 0.6 2.9 0.6 -8.2 0.6 7.9 0.6 9.6 0.7 -13.8 0.6 0.4 0.6 -16.9 0.6 23.4 0.6 -7.6 0.6 4.6 0.7 -6.6 0.6 -6 0.6 -2.4 0.6 12.4 0.6 -3.3 0.6 -7.3 0.7 5.9 0.6 -3.6 0.6 6.8 0.6 -5.7 0.6 -2.1 0.7 7.4 0.6 -2.6 0.6 9.6 0.6 -9.5 0.6 -5.5 0.6 3.9 0.7 -1.8 0.6 4 0.6 -1.1 0.6 -6.6 0.6 6.7 0.6 1.6 0.7 -3.6 0.6 1.7 0.6 4.1 0.6 -7 0.6 3.3 0.7 2 0.6 1.1 0.6 1.6 0.6 -9.3 0.6 7.8 0.6 1.7 0.7 2.9 0.6 -8.1 0.6 -2 0.6 -1.4 0.6 8.2 0.6 3.2 0.7 -11 0.6 5.7 0.6 2.3 0.6 1.3 0.6 -5.7 0.6 4.2 0.7 -3 0.6 -2.3 0.6 3.7 0.6 0.2 0.6 -4.7 0.7 5.1 0.6 5 0.6 -13.7 0.6 8.7 0.6 2.3 0.6 -3.8 0.7 -1.1 0.6 -1.2 0.6 5.9 0.6 -7.7 0.6 2.7 0.6 -6.4 0.7 6.2 0.6 0.8 0.6 -8 0.6 3.5 0.6 3 0.7 -2.1 0.6 -2.4 0.6 -6.1 0.6 9.9 0.6 5.7 0.6 -7.7 0.7 2.3 0.6 2.1 0.6 -2 0.6 1.6 0.6 -1.9 0.6 -2.5 0.7 11.8 0.6 0.8 0.6 -6.8 0.6 4.5 0.6 -8.2 0.7 2 0.6 4.8 0.6 -8.3 0.6 0.2 0.6 5.9 0.6 -7.3 0.7 12.5 0.6 -3.5 0.6 -2.1 0.6 1.3 0.6 -4.8 0.6 -1 0.7 5.9 0.6 1.9 0.6 -2 0.6 -1.4 0.6 -0.5 0.6 5 0.7 -9.5 0.6 3.1 0.6 1.7 0.6 -2.9 0.6 -0.2 0.7 -0.3 0.6 7.3 0.6 2.9 0.6 -3.2 0.6 -6.9 0.6 2.4 0.7 1.2 0.6 -1.8 0.6 -0.4 0.6 3.1 0.6 -7.9 0.6 6.1 0.7 4.3 0.6 1.3 0.6 -1.9 0.6 0.2 0.6 0.4 0.7 -2.8 0.6 1.8 0.6 -1.6 0.6 -2.5 0.6 5.9 0.6 -0.9 0.7 -4.1 0.6 3.8 0.6 0.6 0.6 -3.2 0.6 -0.7 0.6 2.7 0.7 -7.2 0.6 1.7 0.6 7.7 0.6 -1.4 0.6 4 0.7 -5.8 0.6 6 0.6 -1.3 0.6 2.8 0.6 -10.1 0.6 2.2 0.7 0.6 0.6 0.3 0.6 -5.3 0.6 0.8 0.6 -2.9 0.6 11.6 0.7 -7 0.6 1.1 0.6 -0.9 0.6 1.9 0.6 1.4 0.6 -2.7 0.7 -0.3 0.6 6.9 0.6 -4.7 0.6 -2.8 0.6 -2 0.7 0.3 0.6 -2.4 0.6 3.1 0.6 -2.2 0.6 0.6 0.6 1.4 0.7 -2.3 0.6 5.1 0.6 7.7 0.6 -11.3 0.6 -3.3 0.6 8.4 0.7 -4.3 0.6 6.4 0.6 -5.5 0.6 0.8 0.6 -5.4 0.7 -3.3 0.6 3.3 0.6 2.7 0.6 -6.4 0.6 -1.3 0.6 2.8 0.7 0.5 0.6 1.1 0.6 1.6 0.6 7.1 0.6 -7.2 0.6 -1.1 0.7 -0.9 0.6 4.9 0.6 -7.4 0.6 8.2 0.6 -5.3 0.7 -4.7 0.6 5.1 0.6 -1.8 0.6 3.5 0.6 -8.3 0.6 4.2 0.7 -0.4 0.6 2.2 0.6 -5 0.6 1.4 0.6 9.1 0.6 -4.6 0.7 -5.3 0.6 5.9 0.6 -2.8 0.6 0.3 0.6 -1.2 0.6 6.5 0.7 -4.2 0.6 1.8 0.6 -0.7 0.6 -4.8 0.6 2.4 0.7 4.4 0.6 -7.7 0.6 5.3 0.6 -0.4 0.6 2.4 0.6 0.3 0.7 0 0.6 -1.3 0.6 0.4 0.6 -2.4 0.6 0.6 0.6 5.5 0.7 -5.7 0.6 3.5 0.6 -0.1 0.6 -7.1 0.6 4 0.7 -4.2 0.6 3.8 0.6 -2.4 0.6 2.8 0.6 0.4 0.6 -2.2 0.7 10.9 0.6 -3.8 0.6 -7.7 0.6 7.7 0.6 -2.8 0.6 8.6 0.7 -5.8 0.6 2 0.6 -2.8 0.6 1.6 0.6 -3.8 0.7 -0.2 0.6 2.2 0.6 -0.1 0.6 3.7 0.6 -1.2 0.6 -2 0.7 -0.4 0.6 -2.8 0.6 2.4 0.6 -6.7 0.6 6.5 0.6 5 0.7 -4.6 0.6 -0.6 0.6 1.5 0.6 -4.6 0.6 0.9 0.6 4.9 0.7 -4.3 0.6 8.7 0.6 -3.3 0.6 -1.3 0.6 -3 0.7 1.1 0.6 -5.3 0.6 6.7 0.6 1.5 0.6 -0.2 0.6 -1.3 0.7 3.6 0.6 0.1 0.6 -2.8 0.6 0.4 0.6 1.3 0.6 -1.4 0.7 -2.8 0.6 2.2 0.6 -0.7 0.6 -6 0.6 5.2 0.7 -0.5 0.6 -5.8 0.6 0.6 0.6 9.7 0.6 -4 0.6 3.3 0.7 -5.1 0.6 5.8 0.6 -2.9 0.6 -3.9 0.6 3.4 0.6 2 0.7 2 0.6 -6.1 0.6 -2.4 0.6 -2.3 0.6 4.1 0.7 0.3 0.6 -1.3 0.6 -1.2 0.6 3.3 0.6 -2.1 0.6 -1.4 0.7 -5.4 0.6 1.6 0.6 4.9 0.6 -4.1 0.6 6.7 0.6 -5.7 0.7 -1.2 0.6 1.3 0.6 0.8 0.6 -4.3 0.6 2.7 0.6 -2.4 0.7 5.4 0.6 -5.8 0.6 2.7 0.6 -4.9 0.6 -0.9 0.7 2.1 0.6 -2 0.6 1.5 0.6 0.6 0.6 1.1 0.6 -3.9 0.7 2.8 0.6 2.3 0.6 -3 0.6 -1.2 0.6 0.1 0.6 6.7 0.7 -4.2 0.6 3.8 0.6 -4.1 0.6 1.9 0.6 -6.2 0.7 3.1 0.6 1.9 0.6 4.3 0.6 -2.6 0.6 2.2 0.6 -4.9 0.7 -0.2 0.6 3.6 0.6 0.2 0.6 -1.2 0.6 -1.1 0.6 -4.3 0.7 6.5 0.6 -4.6 0.6 3.8 0.6 -1.6 0.6 -6.5 0.6 0.3 0.7 1.4 0.6 2.7 0.6 2.9 0.6 -4.5 0.6 2.2 0.7 -5.4 0.6 1.8 0.6 -0.6 0.6 2.7 0.6 -2.5 0.6 3.9 0.7 2.4 0.6 -3.2 0.6 0 0.6 1.5 0.6 -2.6 0.6 0 0.7 4.9 0.6 -0.9 0.6 -4 0.6 2.1 0.6 1.9 0.7 2.5 0.6 -1.3 0.6 0.2 0.6 -2.2 0.6 0.6 0.6 -0.7 0.7 3.8 0.6 -0.4 0.6 2.1 0.6 -1.3 0.6 -4.8 0.6 -1.1 0.7 1 0.6 0.9 0.6 4 0.6 -5.4 0.6 -1.5 0.7 5.1 0.6 3.2 0.6 -0.3 0.6 3 0.6 -4.1 0.6 -1.2 0.7 0.7 0.6 -2.7 0.6 2.2 0.6 4.4 0.6 2.7 0.6 -2.2 0.7 -1.2 0.6 -1.4 0.6 1.7 0.6 -4.7 0.6 6.9 0.6 1.7 0.7 -1.2 0.6 0.3 0.6 -4.5 0.6 7.2 0.6 0.3 0.7 -8.9 0.6 5.5 0.6 3 0.6 3.8 0.6 -7.7 0.6 1.7 0.7 3.7 0.6 -3 0.6 -0.7 0.6 0.4 0.6 1.2 0.6 -1 0.7 4.5 0.6 -3.7 0.6 4.2 0.6 1.1 0.6 1.1 0.7 -2.9 0.6 0.6 0.6 0.6 0.6 -0.1 0.6 1.7 0.6 -4 0.7 4.8 0.6 1.8 0.6 -8.2 0.6 2 0.6 -4.2 0.6 4.5 0.7 0 0.6 -2.1 0.6 -3.4 0.6 1.2 0.6 4.2 0.7 -1.4 0.6 -4.3 0.6 -3.7 0.6 0.5 0.6 -2.3 0.6 -1.4 0.7 0.3 0.6 3.4 0.6 0.2 0.6 0.8 0.6 -2.9 0.6 -1.3 0.7 5.8 0.6 -3.1 0.6 2.8 0.6 -6 0.6 5.2 0.6 -2.8 0.7 -2.2 0.6 1.6 0.6 6 0.6 -1.7 0.6 -3.4 0.7 0.5 0.6 -4.3 0.6 8.9 0.6 -0.3 0.6 -5.9 0.6 2.8 0.7 -8.6 0.6 10.9 0.6 -1.1 0.6 -1.3 0.6 2.6 0.6 -0.8 0.7 -3 0.6 1.1 0.6 1.6 0.6 2.6 0.6 -3.9 0.7 -3.1 0.6 2.9 0.6 -6.1 0.6 9.3 0.6 -4.3 0.6 -4.2 0.7 5 0.6 1.5 0.6 -0.9 0.6 3.1 0.6 -9.8 0.6 10.5 0.7 -5 0.6 1.9 0.6 1.8 0.6 -8 0.6 0.2 0.7 3.7 0.6 -4.2 0.6 -1.7 0.6 6 0.6 2.8 0.6 -6 0.7 4.3 0.6 11.2 0.6 -9.1 0.6 -0.5 0.6 -0.1 0.6 0.5 0.7 -1.9 0.6 3.1 0.6 -2.3 0.6 2.9 0.6 -2.7 0.6 0.1 0.7 -2.3 0.6 -2 0.6 3.7 0.6 -0.6 0.6 2.7 0.7 -1 0.6 -1.7 0.6 9.3 0.6 -6.4 0.6 3.1 0.6 -7.2 0.7 8.9 0.6 0.9 0.6 -2.7 0.6 -5.1 0.6 5.9 0.6 -6.7 0.7 -2.7 0.6 -0.6 0.6 6.6 0.6 -1.5 0.6 5.1 0.7 -0.6 0.6 3.8 0.6 -3.1 0.6 -1.5 0.6 -0.4 0.6 -1.9 0.7 -0.8 0.6 1.5 0.6 2.9 0.6 -5.6 0.6 3.5 0.6 3.7 0.7 -12.4 0.6 5.3 0.6 0.6 0.6 3.5 0.6 -4.6 0.7 2.1 0.6 10.9 0.6 -14 0.6 4.7 0.6 3.2 0.6 -2.8 0.7 -3 0.6 7.7 0.6 -10.5 0.6 2.7 0.6 2.2 0.6 -3.2 0.7 8.1 0.6 -5.5 0.6 8.7 0.6 -8.5 0.6 7.4 0.6 -3.2 0.7 -3 0.6 0.1 0.6 4.7 0.6 -5.1 0.6 -0.2 0.7 -2.5 0.6 -4.4 0.6 11.1 0.6 -0.5 0.6 -7.7 0.6 5.8 0.7 -1.5 0.6 -5.9 0.6 5.2 0.6 7.3 0.6 2.3 0.6 -3.6 0.7 9.6 0.6 -8.2 0.6 -3.9 0.6 -3.8 0.6 11.3 0.7 -8.1 0.6 0.5 0.6 -1.4 0.6 0.4 0.6 2.6 0.6 4.8 0.7 1.2 0.6 -1.8 0.6 4.9 0.6 -6.1 0.6 -2.8 0.6 5.3 0.7 -6.8 0.6 12.7 0.6 -0.1 0.6 -0.2 0.6 -7 0.7 1.3 0.6 3.3 0.6 -4.1 0.6 1.4 0.6 3.3 0.6 2.6 0.7 -3.4 0.6 8.8 0.6 4.8 0.6 -5.5 0.6 -4.5 0.6 -1.1 0.7 7.5 0.6 -4.4 0.6 -1.2 0.6 -2.8 0.6 -3.1 0.6 8.8 0.7 -7.4 0.6 2.2 0.6 -9.9 0.6 18.8 0.6 -4.6 0.7 -4.6 0.6 -1.7 0.6 -0.2 0.6 -6 0.6 9 0.6 -5.7 0.7 5.8 0.6 -1.1 0.6 6.1 0.6 -7.7 0.6 1.6 0.6 1 0.7 -5.4 0.6 0.6 0.6 2.5 0.6 5.7 0.6 -3.5 0.7 -4.9 0.6 7.7 0.6 -5.5 0.6 -5.1 0.6 12.9 0.6 -6.9 0.7 -2.9 0.6 -3.3 0.6 3.9 0.6 9.5 0.6 -8.8 0.6 9.5 0.7 -9.6 0.6 6.1 0.6 -5.8 0.6 -3 0.6 -0.9 0.7 5 0.6 -2 0.6 -0.3 0.6 7.8 0.6 1.9 0.6 -4.7 0.7 2.2 0.6 -4.2 0.6 7.1 0.6 -0.9 0.6 -9.7 0.6 5.2 0.7 -1.6 0.6 -5.2 0.6 11.7 0.6 -1.5 0.6 -3.3 0.6 3.2 0.7 -7 0.6 3.5 0.6 6.7 0.6 -6.2 0.6 2 0.7 -6.1 0.6 9 0.6 3.5 0.6 -8.4 0.6 1.7 0.6 1.5 0.7 7.5 0.6 -8.2 0.6 -1.4 0.6 4.2 0.6 5.7 0.6 -12.9 0.7 6.5 0.6 6 0.6 -4.3 0.6 -0.9 0.6 5.4 0.7 -9.7 0.6 12.8 0.6 -7.6 0.6 -3.1 0.6 1.2 0.6 -0.7 0.7 1.7 0.6 -2.8 0.6 6.8 0.6 -7 0.6 12.1 0.6 -10.8 0.7 2.5 0.6 -1 0.6 8.7 0.6 -4.8 0.6 8.5 0.7 -9.1 0.6 1.8 0.6 -0.4 0.6 -1.1 0.6 5.8 0.6 0.1 0.7 0.8 0.6 -11.8 0.6 9.4 0.6 -5.4 0.6 0.3 0.6 -3.9 0.7 6.6 0.6 6.5 0.6 2.3 0.6 0.2 0.6 -13.9 0.6 0.6 0.7 1.5 0.6 -1.7 0.6 2.1 0.6 -8.4 0.6 5.8 0.7 5.3 0.6 -1.9 0.6 0.7 0.6 -2.9 0.6 3.1 0.6 6.7 0.7 -5.2 0.6 2.6 0.6 4.1 0.6 -11.4 0.6 6.2 0.6 -2.7 0.7 5.2 0.6 -7.3 0.6 -0.9 0.6 -1 0.6 4.2 0.7 -1.1 0.6 -0.1 0.6 0.2 0.6 -2.1 0.6 -2.1 0.6 2.3 0.7 -1.5 0.6 4.9 0.6 3.5 0.6 -6.2 0.6 -7.4 0.6 12.3 0.7 -3.1 0.6 -4 0.6 1.1 0.6 8.5 0.6 -12.8 0.7 2.3 0.6 3.9 0.6 -14.1 0.6 11.7 0.6 6 0.6 -1.6 0.7 0.9 0.6 -3.3 0.6 1.8 0.6 12.3 0.6 -9.8 0.6 3.7 0.7 -11.2 0.6 6.5 0.6 0.1 0.6 -0.9 0.6 -10.2 0.6 9.1 0.7 5.2 0.6 -3 0.6 -5.5 0.6 5.5 0.6 -12.1 0.7 8.7 0.6 -0.2 0.6 -3.1 0.6 -1.2 0.6 -1 0.6 4.1 0.7 6.8 0.6 -4 0.6 -1 0.6 2.7 0.6 -7.5 0.6 4.8 0.7 -13.4 0.6 8.5 0.6 0.8 0.6 2.7 0.6 0.7 0.7 4.2 0.6 -5.6 0.6 4 0.6 -6.4 0.6 3.8 0.6 -3.2 0.7 4 0.6 -1.4 0.6 -4.1 0.6 4.9 0.6 -8 0.6 6 0.7 2.1 0.6 -1.3 0.6 2.7 0.6 5.6 0.6 -0.5 0.7 1.2 0.6 -9.5 0.6 0.9 0.6 4.2 0.6 -0.2 0.6 -11.1 0.7 15 0.6 -3.3 0.6 -10.1 0.6 10.5 0.6 -7.2 0.6 -0.1 0.7 -5.4 0.6 1.3 0.6 2.6 0.6 0.9 0.6 -6.9 0.6 5.3 0.7 -2.5 0.6 1.8 0.6 -1.4 0.6 2.5 0.6 9.6 0.7 -13.6 0.6 2.3 0.6 3.8 0.6 -2 0.6 -2.2 0.6 5.7 0.7 -6.3 0.6 4.3 0.6 2.1 0.6 0.6 0.6 -3.7 0.6 0.9 0.7 -0.9 0.6 1.9 0.6 -6.7 0.6 7.8 0.6 -0.8 0.7 5.7 0.6 -6.3 0.6 1.8 0.6 -17.4 0.6 11.4 0.6 10.2 0.7 -5.2 0.6 -3 0.6 6.2 0.6 -3.1 0.6 0.7 0.6 -5.3 0.7 4.6 0.6 6.4 0.6 -5.5 0.6 2 0.6 -4.9 0.7 4.5 0.6 -3.1 0.6 -5 0.6 4.3 0.6 1.8 0.6 3 0.7 1.4 0.6 -5.7 0.6 -0.3 0.6 4.8 0.6 -5.7 0.6 1.4 0.7 0 0.6 -1 0.6 -1.7 0.6 9.7 0.6 -3 0.6 -5.2 0.7 -5.2 0.6 3.8 0.6 4.8 0.6 -11.7 0.6 17.4 0.7 -11.3 0.6 -1 0.6 3.2 0.6 -6.5 0.6 6.1 0.6 -2.2 0.7 2.1 0.6 -8.2 0.6 7.4 0.6 2.7 0.6 -1.8 0.6 -3.6 0.7 -1.5 0.6 -2.7 0.6 3.9 0.6 4.3 0.6 5.3 0.7 -1.8 0.6 0.9 0.6 -8.2 0.6 -1.6 0.6 -4.9 0.6 4.7 0.7 -2.5 0.6 2.5 0.6 2.4 0.6 -1.1 0.6 -2.5 0.6 3.7 0.7 2.5 0.6 -0.8 0.6 -13.2 0.6 13.2 0.6 -8.5 0.7 -5.5 0.6 5.5 0.6 7.4 0.6 -14.9 0.6 14.1 0.6 -4.8 0.7 1.6 0.6 -6.2 0.6 5.4 0.6 -1.2 0.6 9.8 0.6 -8.4 0.7 4.8 0.6 -5 0.6 -4.5 0.6 10.1 0.6 1.5 0.6 2.9 0.7 -10.1 0.6 4.7 0.6 3.3 0.6 -0.6 0.6 -0.6 0.7 8.7 0.6 -10.4 0.6 4.9 0.6 -7.1 0.6 8.1 0.6 -7.7 0.7 -1.6 0.6 7.3 0.6 -2.4 0.6 -1.9 0.6 0.5 0.6 -0.5 0.7 4.9 0.6 0.6 0.6 3.4 0.6 -9.5 0.6 9.7 0.7 -4 0.6 -10.3 0.6 12.2 0.6 -14.1 0.6 11 0.6 -8.8 0.7 10 0.6 -2.7 0.6 0.6 0.6 -6.9 0.6 5.8 0.6 8 0.7 -1.9 0.6 -2.2 0.6 -0.6 0.6 -2.2 0.6 7.8 0.7 -7.5 0.6 4 0.6 -11.6 0.6 -1.9 0.6 12.6 0.6 -8.3 0.7 3.9 0.6 4.4 0.6 1.5 0.6 1.1 0.6 -1 0.6 4.5 0.7 -4.6 0.6 0.7 0.6 -3.3 0.6 0.7 0.6 8.9 0.6 -9.6 0.7 -9.7 0.6 8.1 0.6 0.4 0.6 5.2 0.6 -10.6 0.7 -2.5 0.6 4.8 0.6 6 0.6 -8.3 0.6 7.1 0.6 -3.6 0.7 -0.9 0.6 -6.8 0.6 2.6 0.6 -3.7 0.6 3.4 0.6 -2.8 0.7 7.2 0.6 -6.9 0.6 2.5 0.6 -8.7 0.6 6.4 0.7 15.4 0.6 -11.1 0.6 -7 0.6 7.7 0.6 -0.8 0.6 -0.6 0.7 0.6 0.6 -1 0.6 4.8 0.6 -10.2 0.6 6.5 0.6 1.8 0.7 -7.6 0.6 14.6 0.6 -7.8 0.6 -0.7 0.6 -4 0.7 6.2 0.6 -8.8 0.6 9.3 0.6 6.6 0.6 -8.9 0.6 2.5 0.7 -4.2 0.6 7.8 0.6 -7 0.6 0.4 0.6 2.4 0.6 6.6 0.7 -11 0.6 -5.8 0.6 8.6 0.6 3.4 0.6 -0.4 0.6 -3 0.7 2.8 0.6 -1.5 0.6 -2.7 0.6 -6.3 0.6 -1.5 0.7 12.5 0.6 -8.5 0.6 8.7 0.6 0.2 0.6 -8.9 0.6 3.6 0.7 4.2 0.6 1.2 0.6 -8 0.6 1.3 0.6 -4.4 0.6 0.6 0.7 4.9 0.6 -0.8 0.6 -5.1 0.6 9.4 0.6 -3.7 0.7 -0.1 0.6 -2.6 0.6 8.7 0.6 -0.3 0.6 0 0.6 -0.3 0.7 1.5 0.6 6.6 0.6 -5.1 0.6 1.5 0.6 -2.1 0.6 2.6 0.7 -1.9 0.6 -2.2 0.6 6 0.6 -6.2 0.6 -4.1 0.7 1.4 0.6 0.4 0.6 -2.4 0.6 11.7 0.6 -5.4 0.6 -9.8 0.7 11.1 0.6 -8.1 0.6 3.8 0.6 -3.8 0.6 2.5 0.6 0.9 0.7 3.5 0.6 0.2 0.6 -14.8 0.6 7.2 0.6 1.7 0.6 -1.1 0.7 -6.3 0.6 4.3 0.6 1.9 0.6 -7.5 0.6 2.3 0.7 8.8 0.6 -4.8 0.6 1.1 0.6 2.2 0.6 0.9 0.6 1.8 0.7 1.6 0.6 -4.8 0.6 0.9 0.6 -1.1 0.6 1.8 0.6 -2.6 0.7 4.6" stroke="#ff0000"/>
<path d="M211.0 712.0l0.6 -1.1 0.6 -1.1 0.7 -1.1 0.6 -1.1 0.6 -1 0.6 -0.8 0.6 -0.4 0.6 -0.3 0.7 -0.4 0.6 -0.4 0.6 -0.3 0.6 -0.4 0.6 -0.4 0.6 -0.4 0.7 -0.3 0.6 -0.4 0.6 -0.4 0.6 -0.4 0.6 -0.3 0.7 -0.4 0.6 -0.4 0.6 -0.3 0.6 -0.4 0.6 -0.4 0.6 -0.2 0.7 -0.2 0.6 -0.2 0.6 -0.2 0.6 -0.2 0.6 -0.2 0.6 -0.1 0.7 -0.2 0.6 -0.2 0.6 -0.2 0.6 -0.2 0.6 -0.2 0.6 -0.2 0.7 -0.2 0.6 -0.1 0.6 -0.2 0.6 -0.2 0.6 -0.2 0.7 -0.2 0.6 -0.2 0.6 -0.2 0.6 -0.1 0.6 -0.2 0.6 -0.2 0.7 -0.2 0.6 -0.2 0.6 -0.2 0.6 -0.5 0.6 -0.5 0.6 -0.6 0.7 -0.5 0.6 -0.5 0.6 -0.6 0.6 -0.5 0.6 -0.6 0.7 -0.5 0.6 -0.6 0.6 -0.5 0.6 -0.6 0.6 -0.5 0.6 -0.6 0.7 -0.5 0.6 -0.6 0.6 -0.5 0.6 -0.6 0.6 -0.5 0.6 -0.6 0.7 -1.5 0.6 -1.8 0.6 -1.9 0.6 -1.8 0.6 -1.9 0.7 -1.9 0.6 -2.2 0.6 -3.4 0.6 -3.3 0.6 -3.3 0.6 -2.4 0.7 -0.7 0.6 -0.7 0.6 -0.9 0.6 -0.9 0.6 -0.7 0.6 -1.2 0.7 -0.3 0.6 0.2 0.6 -1.6 0.6 -0.5 0.6 -3.2 0.6 -1.2 0.7 -0.2 0.6 -3.9 0.6 -0.8 0.6 -1 0.6 -3.9 0.7 -5.7 0.6 -8.8 0.6 -10.3 0.6 -8.1 0.6 -11.6 0.6 -10.7 0.7 -6.6 0.6 -17 0.6 -15.5 0.6 -20.8 0.6 -15.6 0.6 -8.3 0.7 -7.6 0.6 -6.9 0.6 -4.1 0.6 -10.7 0.6 -6.3 0.7 -4.7 0.6 2.3 0.6 -6.1 0.6 -3.7 0.6 -0.1 0.6 3.2 0.7 -9.4 0.6 -0.9 0.6 -4.7 0.6 -6.8 0.6 -8.2 0.6 -5.3 0.7 -4.2 0.6 -7.6 0.6 10.6 0.6 -5.2 0.6 -4.1 0.7 -3.9 0.6 -4.7 0.6 3.5 0.6 -6.7 0.6 -1.2 0.6 -7.2 0.7 3.8 0.6 2.7 0.6 -11.8 0.6 0.1 0.6 -9.4 0.6 -0.9 0.7 -0.9 0.6 -5.6 0.6 -5.2 0.6 -2 0.6 -5.9 0.6 -4.8 0.7 -0.4 0.6 -2.2 0.6 -4.2 0.6 2.6 0.6 8.9 0.7 -8.1 0.6 -0.8 0.6 6.5 0.6 -9.6 0.6 -8.3 0.6 0.4 0.7 -0.3 0.6 5.6 0.6 2.1 0.6 -10.5 0.6 10.3 0.6 -8.1 0.7 4.2 0.6 -0.4 0.6 0.3 0.6 -1.4 0.6 -1.4 0.7 -6.1 0.6 1.1 0.6 -0.5 0.6 -0.3 0.6 5.5 0.6 -7.9 0.7 -2.7 0.6 2.8 0.6 -5.5 0.6 -6 0.6 -6.8 0.6 10.7 0.7 -4.8 0.6 -2.8 0.6 -5.9 0.6 2.4 0.6 4.9 0.7 -7.1 0.6 -7.4 0.6 1.5 0.6 6.4 0.6 -10.2 0.6 -4.9 0.7 1.9 0.6 2.1 0.6 9.3 0.6 -2.9 0.6 -2.6 0.6 -3 0.7 5.4 0.6 -1.2 0.6 -0.6 0.6 1 0.6 -2.6 0.6 8.5 0.7 -18.7 0.6 11.2 0.6 -5.7 0.6 5.7 0.6 -2.9 0.7 2.6 0.6 1.5 0.6 -2.6 0.6 0.9 0.6 -9.8 0.6 10.7 0.7 -4.2 0.6 3.1 0.6 5.2 0.6 -1.7 0.6 3.1 0.6 -16.4 0.7 4.8 0.6 7.2 0.6 -8.9 0.6 3.9 0.6 6.5 0.7 -3.5 0.6 -7.3 0.6 5.7 0.6 -1 0.6 -2.5 0.6 -3.5 0.7 -0.3 0.6 -9.2 0.6 4.2 0.6 -6 0.6 2.6 0.6 -3 0.7 -6.9 0.6 3.5 0.6 -5.1 0.6 -3.7 0.6 0.6 0.7 -4.6 0.6 0.1 0.6 -0.2 0.6 0.2 0.6 2.8 0.6 -11.4 0.7 6.6 0.6 -6.4 0.6 3.6 0.6 1.9 0.6 0.3 0.6 3.3 0.7 -3.1 0.6 -9.5 0.6 6.5 0.6 10.2 0.6 -2.1 0.6 -4.4 0.7 -4.9 0.6 10.6 0.6 -15.8 0.6 8.7 0.6 -1.9 0.7 -0.9 0.6 -5.7 0.6 3.1 0.6 6.6 0.6 -4.3 0.6 -4 0.7 5.4 0.6 -1.7 0.6 0.1 0.6 -1.5 0.6 5.7 0.6 -1.6 0.7 -2.7 0.6 4 0.6 -1.5 0.6 0.1 0.6 -4.5 0.7 2 0.6 3.4 0.6 0.7 0.6 -1.6 0.6 -0.5 0.6 3.3 0.7 2.4 0.6 2 0.6 -3.1 0.6 -4.1 0.6 1.3 0.6 -8.1 0.7 6 0.6 -3.2 0.6 1.3 0.6 2.2 0.6 -2.6 0.7 -4.3 0.6 3.5 0.6 -2.3 0.6 2.3 0.6 1.6 0.6 -4.7 0.7 5 0.6 2.8 0.6 -4.9 0.6 3.3 0.6 -7.9 0.6 3.3 0.7 5.8 0.6 -10.1 0.6 2.1 0.6 -2.3 0.6 6.3 0.6 -1.1 0.7 -7.3 0.6 4 0.6 -9.2 0.6 10.3 0.6 -4.3 0.7 4.2 0.6 -13.2 0.6 10.3 0.6 -1.6 0.6 -7 0.6 6 0.7 2.9 0.6 2.2 0.6 -1.6 0.6 -2.8 0.6 2.8 0.6 -0.3 0.7 -0.7 0.6 -2.3 0.6 2.8 0.6 0 0.6 5.2 0.7 -6.9 0.6 6.2 0.6 -5.1 0.6 3.4 0.6 -6.9 0.6 0.7 0.7 0.9 0.6 5.3 0.6 -2.2 0.6 1.9 0.6 -1.2 0.6 0.6 0.7 -2.1 0.6 -2.9 0.6 2.2 0.6 -1 0.6 6.7 0.7 -7 0.6 2.1 0.6 -3.8 0.6 4.8 0.6 -1.7 0.6 -0.6 0.7 -4.2 0.6 -0.5 0.6 3.9 0.6 2.6 0.6 1 0.6 -11.3 0.7 4.1 0.6 -4.8 0.6 2 0.6 3.8 0.6 3.8 0.6 -4.4 0.7 -1.3 0.6 1.8 0.6 3.4 0.6 1.9 0.6 -12.2 0.7 4.3 0.6 -1 0.6 6.8 0.6 -3.9 0.6 4.3 0.6 -7.4 0.7 1.4 0.6 -1.6 0.6 -2 0.6 2.2 0.6 -4.1 0.6 10 0.7 -7 0.6 -6.4 0.6 1.5 0.6 7.1 0.6 -7.6 0.7 3.6 0.6 -1.8 0.6 0.5 0.6 -1.3 0.6 -3.3 0.6 -1.3 0.7 -3.4 0.6 6.5 0.6 -1.1 0.6 -2.8 0.6 -1.4 0.6 -4.7 0.7 10.7 0.6 -9.7 0.6 -0.2 0.6 0.3 0.6 -1.1 0.7 1.5 0.6 -8.6 0.6 7.9 0.6 -4.3 0.6 0 0.6 2.3 0.7 -0.2 0.6 -6.3 0.6 -0.3 0.6 5.2 0.6 -2.5 0.6 -1.5 0.7 -3 0.6 3.9 0.6 -2.5 0.6 -3.1 0.6 -1.5 0.6 5.4 0.7 -2 0.6 2 0.6 -8.3 0.6 5.2 0.6 -6.9 0.7 4.4 0.6 -0.8 0.6 -2.7 0.6 -2.8 0.6 4.2 0.6 0.5 0.7 3.7 0.6 -5.7 0.6 -3.1 0.6 4.3 0.6 6.5 0.6 -1.6 0.7 -6.7 0.6 0.3 0.6 0.8 0.6 -3.6 0.6 1.3 0.7 -0.1 0.6 -3 0.6 -0.4 0.6 -1.2 0.6 0.5 0.6 -4.9 0.7 4.6 0.6 -3.6 0.6 0.3 0.6 -1.6 0.6 16.3 0.6 -9.3 0.7 1.5 0.6 -2.8 0.6 -4 0.6 1.7 0.6 0.5 0.7 1.4 0.6 0.1 0.6 3.6 0.6 -14.1 0.6 6.6 0.6 4.6 0.7 -2 0.6 0.1 0.6 5.2 0.6 -3.5 0.6 6.5 0.6 -5.6 0.7 3 0.6 -4.9 0.6 -1.4 0.6 4 0.6 1.2 0.6 -2.4 0.7 -2.5 0.6 6.8 0.6 -3.8 0.6 -2.8 0.6 -0.4 0.7 7.5 0.6 -2.2 0.6 -4.6 0.6 -1.6 0.6 2.8 0.6 5.3 0.7 4.1 0.6 -9.4 0.6 -0.2 0.6 -5.6 0.6 16.5 0.6 -11 0.7 6.3 0.6 -2.1 0.6 2.7 0.6 -6.5 0.6 0.1 0.7 7.8 0.6 0.6 0.6 2 0.6 -9.8 0.6 4.8 0.6 0.6 0.7 -2.3 0.6 4.3 0.6 3.1 0.6 -3.2 0.6 -5.4 0.6 6.9 0.7 1 0.6 0.3 0.6 -0.1 0.6 -9.5 0.6 7.7 0.7 0.7 0.6 -1.4 0.6 1.8 0.6 -1.6 0.6 8 0.6 -4.9 0.7 -0.9 0.6 6.6 0.6 0.3 0.6 1.1 0.6 -4.7 0.6 0 0.7 3.3 0.6 7.8 0.6 -6.5 0.6 -6.8 0.6 5.7 0.6 -3.1 0.7 -3.3 0.6 3.4 0.6 0.9 0.6 4.9 0.6 3.6 0.7 -0.8 0.6 -1.2 0.6 -4.7 0.6 1.3 0.6 0.6 0.6 5.4 0.7 -6 0.6 1 0.6 6 0.6 -2.7 0.6 -2.7 0.6 3.6 0.7 0.1 0.6 0.2 0.6 1.2 0.6 -0.4 0.6 -2 0.7 -0.8 0.6 -3.5 0.6 3.4 0.6 5.4 0.6 -1.9 0.6 -3.7 0.7 0.9 0.6 -2.6 0.6 3.9 0.6 7.6 0.6 -0.4 0.6 -0.8 0.7 -1.2 0.6 -3.7 0.6 -3.3 0.6 4.2 0.6 -1.7 0.7 4 0.6 -2.1 0.6 -2.9 0.6 4.7 0.6 7.8 0.6 -11.9 0.7 5.9 0.6 -1.3 0.6 -3 0.6 -3.2 0.6 2.3 0.6 2 0.7 1.6 0.6 0.1 0.6 -2 0.6 -2.6 0.6 2.7 0.6 -2.8 0.7 -2.4 0.6 6.4 0.6 -5.8 0.6 -1.7 0.6 4.2 0.7 -7 0.6 4.5 0.6 2.6 0.6 -3.5 0.6 0.8 0.6 6.8 0.7 -1.8 0.6 0 0.6 0.6 0.6 -5.3 0.6 1.2 0.6 0.2 0.7 0.2 0.6 1.9 0.6 -2.2 0.6 7.4 0.6 -8.6 0.7 5.2 0.6 4.5 0.6 -1.4 0.6 -3.4 0.6 3 0.6 4.9 0.7 -4.2 0.6 -3.6 0.6 2.8 0.6 -2.6 0.6 -4.7 0.6 6.4 0.7 3.5 0.6 0.5 0.6 -4.5 0.6 -2.6 0.6 8.8 0.7 -4.3 0.6 3.1 0.6 2.1 0.6 -2.6 0.6 -1.7 0.6 -1.8 0.7 0.3 0.6 1.2 0.6 0.2 0.6 3.5 0.6 -6.1 0.6 2.5 0.7 1.5 0.6 -2.3 0.6 1.1 0.6 -2.2 0.6 6.2 0.6 2.3 0.7 -7.7 0.6 6.6 0.6 -8.1 0.6 6 0.6 -7.4 0.7 7.2 0.6 -2.1 0.6 1.2 0.6 3.3 0.6 -0.9 0.6 -1.4 0.7 -1.4 0.6 2.9 0.6 -1.3 0.6 1.4 0.6 4.1 0.6 -0.6 0.7 -1.2 0.6 0.6 0.6 -7.9 0.6 3.2 0.6 -5.5 0.7 2.6 0.6 2.4 0.6 -0.6 0.6 -0.2 0.6 -0.5 0.6 -0.8 0.7 0.1 0.6 5 0.6 0.3 0.6 -8.8 0.6 6.1 0.6 3.3 0.7 -2.7 0.6 0 0.6 -1.8 0.6 0.2 0.6 3.2 0.7 -0.4 0.6 2.6 0.6 -4.8 0.6 2.1 0.6 2.5 0.6 -1 0.7 2.8 0.6 -6.3 0.6 4.5 0.6 -1 0.6 -2.9 0.6 2.1 0.7 -2.1 0.6 0.8 0.6 0.9 0.6 -4.1 0.6 3.6 0.6 5.1 0.7 -9.3 0.6 6 0.6 -2 0.6 1.8 0.6 1.4 0.7 0.9 0.6 4.3 0.6 -6.4 0.6 5.5 0.6 -4.7 0.6 1.9 0.7 1.5 0.6 -4.2 0.6 -2 0.6 3.2 0.6 2.4 0.6 0.4 0.7 -3.6 0.6 8 0.6 -5.1 0.6 -3.2 0.6 6.8 0.7 -0.9 0.6 -8.6 0.6 7.7 0.6 -6.5 0.6 3.4 0.6 6.7 0.7 -2.3 0.6 -0.1 0.6 0.9 0.6 -5.3 0.6 2.4 0.6 0.1 0.7 -3.9 0.6 4.2 0.6 -0.3 0.6 -1 0.6 1.1 0.7 -3.1 0.6 -2 0.6 4.9 0.6 -5.6 0.6 2.8 0.6 5.4 0.7 2 0.6 -4.8 0.6 -8.3 0.6 11.9 0.6 -2.6 0.6 -2.2 0.7 2.5 0.6 -2 0.6 -5.4 0.6 -0.6 0.6 8.1 0.6 -10.4 0.7 8.9 0.6 0.2 0.6 2 0.6 1.2 0.6 0.2 0.7 1.7 0.6 -2.6 0.6 -2.6 0.6 0.9 0.6 -2.5 0.6 -3 0.7 2.4 0.6 -4.4 0.6 2.7 0.6 7.9 0.6 -3.7 0.6 -1.8 0.7 -0.7 0.6 -3.4 0.6 4.8 0.6 -0.2 0.6 1.4 0.7 -0.1 0.6 0.9 0.6 -6 0.6 12.1 0.6 -3.9 0.6 -3 0.7 -1.1 0.6 1.7 0.6 1.9 0.6 -2.9 0.6 -7.5 0.6 0.3 0.7 -3.6 0.6 7.2 0.6 0.5 0.6 2.5 0.6 -3.3 0.7 3 0.6 -5.1 0.6 5.4 0.6 -2.1 0.6 -3.1 0.6 -3 0.7 10 0.6 -12.2 0.6 8.9 0.6 -3.1 0.6 3.4 0.6 -2.4 0.7 3.3 0.6 -4.5 0.6 -3 0.6 1.3 0.6 -2.4 0.6 4.2 0.7 1.8 0.6 -2.5 0.6 -1.7 0.6 4.2 0.6 -8 0.7 5.8 0.6 -1.7 0.6 -0.2 0.6 2.8 0.6 -5.2 0.6 4.2 0.7 2.1 0.6 -4.7 0.6 3.8 0.6 2.9 0.6 1.7 0.6 -6 0.7 6.8 0.6 -2.9 0.6 0.5 0.6 -1.6 0.6 4.5 0.7 -4.2 0.6 2.3 0.6 -0.9 0.6 1 0.6 -4.7 0.6 4.8 0.7 -1.4 0.6 4.5 0.6 -5.6 0.6 -0.6 0.6 1.3 0.6 -1.1 0.7 1 0.6 -2.1 0.6 -2.6 0.6 2.2 0.6 1.9 0.7 3 0.6 -1.5 0.6 -1.2 0.6 2.1 0.6 0.5 0.6 8.1 0.7 -5.7 0.6 -3.1 0.6 -5.7 0.6 5.4 0.6 -2.6 0.6 1.1 0.7 3.9 0.6 -6.7 0.6 -6.1 0.6 5.4 0.6 -7.8 0.6 8.7 0.7 -0.2 0.6 -0.7 0.6 -5.3 0.6 3.8 0.6 4.5 0.7 -5.2 0.6 1.2 0.6 1.9 0.6 -1.4 0.6 -1 0.6 0.6 0.7 1.1 0.6 -2.1 0.6 2.9 0.6 1 0.6 -5 0.6 5.3 0.7 -0.3 0.6 0.7 0.6 -0.2 0.6 -3.3 0.6 -1.1 0.7 6.8 0.6 -0.8 0.6 -0.3 0.6 -3.1 0.6 -2.2 0.6 4.8 0.7 -1.4 0.6 2.4 0.6 2 0.6 -0.1 0.6 -0.6 0.6 -7.8 0.7 -1.9 0.6 5.1 0.6 -1.2 0.6 -0.1 0.6 7.4 0.6 -7.3 0.7 9.1 0.6 -0.2 0.6 4.6 0.6 -4.8 0.6 3.8 0.7 -7.9 0.6 -1 0.6 5.6 0.6 -8.1 0.6 6.3 0.6 -3.7 0.7 -5.6 0.6 11.1 0.6 -10.3 0.6 12.1 0.6 -12.8 0.6 1.8 0.7 4 0.6 -0.8 0.6 -6.9 0.6 6.2 0.6 -0.2 0.7 0.5 0.6 -8.9 0.6 0.4 0.6 2 0.6 2.8 0.6 -1.7 0.7 -1.1 0.6 0.8 0.6 7.5 0.6 -6.2 0.6 2.6 0.6 -8.6 0.7 12.6 0.6 -2.6 0.6 -6.2 0.6 7 0.6 1.3 0.7 -1.6 0.6 -2.6 0.6 3 0.6 -4.4 0.6 1.7 0.6 -1.3 0.7 0.2 0.6 -3.9 0.6 8.2 0.6 -4.9 0.6 -2.4 0.6 2.3 0.7 2.8 0.6 -0.8 0.6 2.9 0.6 -5.5 0.6 -1.5 0.6 4.1 0.7 3.9 0.6 -7.3 0.6 -1.6 0.6 0.9 0.6 2.6 0.7 -3.2 0.6 2.9 0.6 -5.3 0.6 5 0.6 -5 0.6 1.8 0.7 3.9 0.6 1.4 0.6 1.3 0.6 -4.6 0.6 2.5 0.6 0.6 0.7 2.3 0.6 -7.7 0.6 1.7 0.6 3.4 0.6 -0.8 0.7 6.2 0.6 -4.3 0.6 1.5 0.6 -3.5 0.6 3.6 0.6 2.1 0.7 -6.8 0.6 -0.6 0.6 8 0.6 -5.5 0.6 1.9 0.6 -3.1 0.7 5.4 0.6 -6.6 0.6 -0.4 0.6 3.2 0.6 -1.3 0.7 -6.8 0.6 9.2 0.6 -4.1 0.6 3.8 0.6 -1.7 0.6 1.3 0.7 -2.9 0.6 -1.7 0.6 4.2 0.6 0 0.6 3.8 0.6 -3.4 0.7 -3.6 0.6 5.7 0.6 1.9 0.6 -4.8 0.6 -4.3 0.6 -2.6 0.7 4.5 0.6 -5.5 0.6 7.8 0.6 -3.4 0.6 -1.1 0.7 2.5 0.6 -4.6 0.6 -1.2 0.6 3.7 0.6 5.2 0.6 -5.8 0.7 4.6 0.6 -9.7 0.6 6.1 0.6 2.4 0.6 2 0.6 -11 0.7 7 0.6 -1.8 0.6 3.5 0.6 -2.3 0.6 0.6 0.7 -2 0.6 1 0.6 3.9 0.6 3.4 0.6 -3.5 0.6 -0.7 0.7 -0.9 0.6 6.9 0.6 -13 0.6 -1.7 0.6 4.5 0.6 5 0.7 2.8 0.6 -1.8 0.6 0.8 0.6 -2.2 0.6 -2.6 0.7 -2.1 0.6 6 0.6 -4.9 0.6 6.1 0.6 -0.4 0.6 -4.6 0.7 1 0.6 0.2 0.6 4 0.6 -3.3 0.6 -2.8 0.6 4.3 0.7 4.6 0.6 -3.5 0.6 -0.2 0.6 -1.9 0.6 -1.8 0.6 2.3 0.7 1.5 0.6 -1 0.6 5 0.6 -4.6 0.6 -0.1 0.7 -0.4 0.6 1 0.6 -8 0.6 6 0.6 3.4 0.6 -6.2 0.7 3.8 0.6 -2.8 0.6 0 0.6 2.7 0.6 -0.6 0.6 -6.7 0.7 5.4 0.6 5.9 0.6 -4.6 0.6 0.3 0.6 1.3 0.7 1.4 0.6 0.2 0.6 -5.9 0.6 -1 0.6 5.2 0.6 3.4 0.7 0 0.6 0 0.6 -6.2 0.6 -1.5 0.6 2.6 0.6 1.8 0.7 -4.5 0.6 6 0.6 2.9 0.6 -3 0.6 6.5 0.7 -3.2 0.6 -4.3 0.6 1.1 0.6 0.4 0.6 3 0.6 -0.6 0.7 -4.3 0.6 1.7 0.6 0.3 0.6 -1.8 0.6 -6.1 0.6 1 0.7 -0.2 0.6 -3.6 0.6 8.3 0.6 -4.2 0.6 0.2 0.6 -3 0.7 3.9 0.6 0.3 0.6 0.6 0.6 1.1 0.6 -5.4 0.7 10.2 0.6 3.7 0.6 -7.8 0.6 0.7 0.6 2.7 0.6 0 0.7 -5.3 0.6 -1.9 0.6 10.8 0.6 -9.1 0.6 -6.9 0.6 11.1 0.7 1.6 0.6 2.3 0.6 1.2 0.6 3.4 0.6 -11.4 0.7 -0.9 0.6 0.1 0.6 11.4 0.6 -6.3 0.6 -3.3 0.6 -3.3 0.7 7.3 0.6 -2.2 0.6 1 0.6 -2.9 0.6 0.1 0.6 3.4 0.7 -3.5 0.6 3 0.6 -0.8 0.6 -0.2 0.6 3 0.7 -1.2 0.6 1.7 0.6 0.6 0.6 -3.6 0.6 1.2 0.6 0.3 0.7 2.1 0.6 -1.6 0.6 1.3 0.6 0 0.6 -0.8 0.6 1.8 0.7 -3.8 0.6 -2.6 0.6 6.5 0.6 -9.1 0.6 6.8 0.6 7 0.7 -4.3 0.6 -4.8 0.6 5.3 0.6 -1.5 0.6 -1.7 0.7 1.2 0.6 -1.6 0.6 2.2 0.6 2.4 0.6 -5.4 0.6 7.2 0.7 3.1 0.6 -7.5 0.6 -2.1 0.6 1.6 0.6 5.8 0.6 -2.9 0.7 1.4 0.6 6.1 0.6 -9.5 0.6 1.7 0.6 -1.8 0.7 -0.1 0.6 0.5 0.6 -2.4 0.6 5.6 0.6 -1 0.6 3.7 0.7 -2 0.6 -1.5 0.6 2.4 0.6 -5.1 0.6 3.4 0.6 -5.5 0.7 5.2 0.6 -5.9 0.6 5.2 0.6 -6.5 0.6 4.2 0.7 -3.9 0.6 1 0.6 -0.2 0.6 4.2 0.6 3.4 0.6 -1.3 0.7 -1.6 0.6 -1.4 0.6 3.1 0.6 1.6 0.6 -6.5 0.6 -1.3 0.7 5.4 0.6 6.1 0.6 -5.5 0.6 -0.9 0.6 -1.3 0.6 1 0.7 -1.4 0.6 -0.8 0.6 6.7 0.6 0.5 0.6 -4.6 0.7 -1.3 0.6 1.1 0.6 -1.5 0.6 -0.2 0.6 1.3 0.6 -0.9 0.7 5.2 0.6 3.9 0.6 -7.8 0.6 -0.1 0.6 -4 0.6 0.9 0.7 1.9 0.6 0 0.6 -1.7 0.6 -2.7 0.6 4.8 0.7 -4.8 0.6 0.8 0.6 -1.7 0.6 -1.6 0.6 0.1 0.6 -4.1 0.7 10.1 0.6 -8.5 0.6 4.6 0.6 -0.2 0.6 -4 0.6 -4.4 0.7 5.3 0.6 -3.7 0.6 3 0.6 1.6 0.6 -2.4 0.7 -3.2 0.6 4.7 0.6 4.9 0.6 -2.8 0.6 4.5 0.6 -7.5 0.7 0.5 0.6 -0.5 0.6 2.5 0.6 8.1 0.6 -0.8 0.6 -1.4 0.7 -1 0.6 5.8 0.6 -4 0.6 -1.5 0.6 11.3 0.6 -10.2 0.7 6.5 0.6 2.9 0.6 0.7 0.6 3.8 0.6 -3.1 0.7 -5.3 0.6 5.6 0.6 -1 0.6 -4.1 0.6 0.4 0.6 0.4 0.7 -4.6 0.6 7.8 0.6 0.6 0.6 0.7 0.6 -4.9 0.6 0.9 0.7 3.8 0.6 -3.1 0.6 -2.8 0.6 -1.8 0.6 1.6 0.7 3.9 0.6 -4.6 0.6 7.1 0.6 0.4 0.6 -7 0.6 -7.2 0.7 3.8 0.6 2.7 0.6 -6.6 0.6 0.3 0.6 3 0.6 7.3 0.7 -10.4 0.6 -6.4 0.6 7 0.6 -2.2 0.6 -0.8 0.7 -2 0.6 1 0.6 -3.5 0.6 4.7 0.6 -1.9 0.6 1.5 0.7 -3.5 0.6 6 0.6 -5 0.6 -0.4 0.6 1.6 0.6 -4.4 0.7 -0.1 0.6 5.3 0.6 0.1 0.6 2 0.6 -0.8 0.6 -2.4 0.7 1.1 0.6 4.7 0.6 -6.6 0.6 -5.2 0.6 3.9 0.7 -1.8 0.6 1.8 0.6 0.4 0.6 -4.1 0.6 4.5 0.6 -2 0.7 2.3 0.6 -3.9 0.6 -1.6 0.6 3.2 0.6 5.5 0.6 -11.6 0.7 8 0.6 -3.8 0.6 3.5 0.6 -4.6 0.6 1.3 0.7 0.4 0.6 4.2 0.6 -5.6 0.6 0.8 0.6 -1.8 0.6 4.9 0.7 -4.4 0.6 3.9 0.6 1.6 0.6 -1.6 0.6 -4.4 0.6 0.3 0.7 8.2 0.6 -7.3 0.6 -0.7 0.6 -1.3 0.6 -4.4 0.7 4 0.6 0.2 0.6 7.9 0.6 -11.6 0.6 5.3 0.6 2.9 0.7 -4.9 0.6 -5.4 0.6 10.7 0.6 -0.1 0.6 -2.6 0.6 -1 0.7 1.2 0.6 3.3 0.6 -2.8 0.6 -1.9 0.6 5 0.6 0.8 0.7 -5.1 0.6 6.4 0.6 -5.3 0.6 2.7 0.6 -1.4 0.7 1 0.6 -1 0.6 -7 0.6 3.2 0.6 6.9 0.6 -6.3 0.7 3 0.6 -6.2 0.6 1.1 0.6 7.8 0.6 -4.8 0.6 -2.3 0.7 2.9 0.6 -5.2 0.6 7.1 0.6 -3.1 0.6 3.1 0.7 0.6 0.6 -4.8 0.6 -1.1 0.6 -1 0.6 4 0.6 1.2 0.7 4.3 0.6 -7.6 0.6 7 0.6 -5.5 0.6 -1.1 0.6 5.1 0.7 -0.9 0.6 -2.7 0.6 0.5 0.6 6.8 0.6 -4.3 0.7 -0.3 0.6 -1.7 0.6 10.7 0.6 -2.4 0.6 -2.6 0.6 3.9 0.7 -5.5 0.6 -1.8 0.6 2.1 0.6 2 0.6 -6.7 0.6 8.6 0.7 -1.8 0.6 0.7 0.6 -3 0.6 3.2 0.6 -8.9 0.6 5.9 0.7 3.6 0.6 -1.1 0.6 1.3 0.6 -4.8 0.6 3.4 0.7 -6.9 0.6 3.4 0.6 0.3 0.6 -2.9 0.6 2.8 0.6 -2.3 0.7 3.5 0.6 -5.5 0.6 -3.8 0.6 1 0.6 0.9 0.6 1.7 0.7 0 0.6 -1.8 0.6 3.6 0.6 -4 0.6 4.2 0.7 -7 0.6 8.9 0.6 -1.6 0.6 -1.5 0.6 -1.9 0.6 5.6 0.7 -5.6 0.6 4.3 0.6 3.9 0.6 -5.6 0.6 -0.6 0.6 -0.3 0.7 -4.2 0.6 7.3 0.6 -9.3 0.6 3.1 0.6 -0.7 0.7 -1.2 0.6 7.8 0.6 -2.7 0.6 -3.3 0.6 -0.1 0.6 -3.3 0.7 3.5 0.6 4.4 0.6 0.6 0.6 -6.2 0.6 4.8 0.6 0.6 0.7 -0.4 0.6 0.4 0.6 -10.1 0.6 5.2 0.6 -2.6 0.6 5.9 0.7 -5 0.6 2.5 0.6 1.7 0.6 -7.1 0.6 3.3 0.7 -0.7 0.6 1.8 0.6 -4.8 0.6 6.7 0.6 3.8 0.6 -6.5 0.7 4.9 0.6 -9.9 0.6 3.8 0.6 7.1 0.6 -1 0.6 0.6 0.7 2.8 0.6 -4.6 0.6 0.2 0.6 -0.2 0.6 1.3 0.7 -7.3 0.6 13.3 0.6 -12.2 0.6 1.2 0.6 5.8 0.6 2.7 0.7 -1.6 0.6 3.5 0.6 -8.3 0.6 -0.6 0.6 5.1 0.6 -4.2 0.7 3.3 0.6 0.8 0.6 0 0.6 -7.9 0.6 6.1 0.7 -5.5 0.6 7.4 0.6 -3.5 0.6 4.5 0.6 0.8 0.6 -8.9 0.7 5.1 0.6 -1.7 0.6 4.5 0.6 -7.5 0.6 0 0.6 1.3 0.7 -3.8 0.6 7.4 0.6 -0.9 0.6 2.7 0.6 -2.2 0.6 1.8 0.7 -5.6 0.6 5.2 0.6 -0.9 0.6 -6.9 0.6 1.5 0.7 -0.4 0.6 9.4 0.6 -1.3 0.6 -8.3 0.6 2.9 0.6 1.4 0.7 -0.7 0.6 -2 0.6 4.8 0.6 -7.6 0.6 6.3 0.6 -2 0.7 -0.4 0.6 -4 0.6 -3.1 0.6 3.4 0.6 4.3 0.7 -2.9 0.6 -2.6 0.6 5.7 0.6 1.8 0.6 -4.2 0.6 2.3 0.7 3.5 0.6 -1 0.6 1.6 0.6 0.7 0.6 -3.5 0.6 -4 0.7 -3 0.6 9.7 0.6 -2.6 0.6 1.7 0.6 -5 0.7 2.2 0.6 -4.1 0.6 -0.4 0.6 -1 0.6 3.6 0.6 -0.2 0.7 0.5 0.6 -1.1 0.6 0.2 0.6 7.3 0.6 0.9 0.6 -2.7 0.7 -3.3 0.6 3.7 0.6 -5.7 0.6 -2 0.6 6.7 0.6 -1.8 0.7 3.2 0.6 -5.3 0.6 3.5 0.6 -4.2 0.6 1.9 0.7 1.9 0.6 1.1 0.6 -3.9 0.6 -0.4 0.6 4.2 0.6 -2 0.7 -1.9 0.6 4 0.6 -3.2 0.6 5.8 0.6 2.5 0.6 -1.2 0.7 5.5 0.6 -13.5 0.6 -1.6 0.6 4.6 0.6 -6.6 0.7 7.2 0.6 0.6 0.6 0.2 0.6 2.5 0.6 -2.4 0.6 -0.9 0.7 0.7 0.6 -1.2 0.6 3 0.6 -3.4 0.6 1.7 0.6 -0.5 0.7 4.5 0.6 -2.5 0.6 1.1 0.6 -1.8 0.6 -6.1 0.7 4.2 0.6 -5.3 0.6 6.6 0.6 -4.7 0.6 8.7 0.6 -6.1 0.7 1 0.6 -0.9 0.6 -2.3 0.6 -1.8 0.6 -3.7 0.6 5 0.7 -4.3 0.6 9.6 0.6 -6.5 0.6 2.1 0.6 2.6 0.6 -1.2 0.7 3.8 0.6 -3.8 0.6 -0.6 0.6 2 0.6 5.3 0.7 -2.3 0.6 -8.2 0.6 6.2 0.6 -1.5 0.6 1.2 0.6 2.7 0.7 -2.2 0.6 1.9 0.6 2.6 0.6 -10.3 0.6 6.5 0.6 1.3 0.7 0.4" stroke="#0000ff"/>
<path d="M211.5 772.0l0.6 -24.7 0.6 -13.8 0.7 -9.3 0.6 -3.4 0.6 -1.6 0.6 -1.6 0.6 -1.6 0.6 -1.6 0.7 -1.4 0.6 -0.1 0.6 -0.1 0.6 0 0.6 -0.1 0.6 -0.1 0.7 -0.1 0.6 0 0.6 -0.1 0.6 -0.1 0.6 -0.1 0.7 -0.1 0.6 0 0.6 -0.2 0.6 -0.4 0.6 -0.4 0.6 -0.5 0.7 -0.4 0.6 -0.5 0.6 -0.4 0.6 -0.4 0.6 -0.5 0.6 -0.4 0.7 -0.5 0.6 -0.4 0.6 -1.5 0.6 -1.7 0.6 -1.7 0.6 -1.7 0.7 -1.7 0.6 -1.7 0.6 -2.3 0.6 -3.5 0.6 -3.5 0.7 -3.5 0.6 -3.6 0.6 -3.5 0.6 -1.9 0.6 -1.1 0.6 -1.1 0.7 -1.1 0.6 -1.1 0.6 -1.1 0.6 -1.1 0.6 -3 0.6 -6.2 0.7 -6.1 0.6 -6.2 0.6 -6.2 0.6 -3.9 0.6 -3.5 0.7 -3.5 0.6 -3.4 0.6 -3.5 0.6 -9.5 0.6 -12.7 0.6 -12.6 0.7 -12.8 0.6 -13 0.6 -17.4 0.6 -18.5 0.6 -18.5 0.6 -25.5 0.7 -30.9 0.6 -30.8 0.6 -30.9 0.6 -30.9 0.6 -16.1 0.7 -9.9 0.6 -9.9 0.6 -9.9 0.6 -11.5 0.6 -12.3 0.6 -12.4 0.7 -12.3 0.6 -12.4 0.6 -12.3 0.6 -8.7 0.6 -8.7 0.6 -8.6 0.7 -8.7 0.6 -4.8 0.6 -4.7 0.6 -4.6 0.6 -3.5 0.6 -2.9 0.7 -3 0.6 -2.6 0.6 -2 0.6 -2.2 0.6 0.5 0.7 -2.8 0.6 -3.3 0.6 1.7 0.6 1 0.6 3.2 0.6 -5.4 0.7 8.5 0.6 -10.7 0.6 3.4 0.6 -7.5 0.6 20.4 0.6 -16 0.7 -1.2 0.6 20.9 0.6 -11 0.6 -0.1 0.6 16.5 0.7 -9.3 0.6 8.8 0.6 -12.7 0.6 13.2 0.6 4.8 0.6 -16.7 0.7 25.4 0.6 -27.8 0.6 1.2 0.6 3.5 0.6 11.5 0.6 -20.4 0.7 0.3 0.6 8.8 0.6 13.6 0.6 -24.2 0.6 -9.5 0.7 15.3 0.6 13.2 0.6 -15.9 0.6 4.4 0.6 -24.2 0.6 25.4 0.7 4.1 0.6 8.6 0.6 -5.5 0.6 6.3 0.6 -24.1 0.6 22.4 0.7 -22.6 0.6 10.8 0.6 18.2 0.6 -5.9 0.6 -33.7 0.6 31.7 0.7 -12.9 0.6 -7.9 0.6 13.2 0.6 0.8 0.6 18.9 0.7 -33.7 0.6 8.9 0.6 5.7 0.6 -21.5 0.6 33.8 0.6 7.2 0.7 -28.5 0.6 13.1 0.6 -9.4 0.6 5.8 0.6 -11 0.6 19.1 0.7 -23.2 0.6 27.6 0.6 -10 0.6 21.8 0.6 -48 0.7 18.6 0.6 -20 0.6 12.5 0.6 7.2 0.6 -14.5 0.6 -5.7 0.7 -1.8 0.6 22.1 0.6 11.3 0.6 0.7 0.6 -5.1 0.6 -11.7 0.7 5.4 0.6 -11.1 0.6 -2.1 0.6 27.7 0.6 -13.7 0.7 8.5 0.6 -8 0.6 14.6 0.6 -1.1 0.6 -19.8 0.6 2.3 0.7 -4.8 0.6 15.8 0.6 -1.8 0.6 -12.6 0.6 19.9 0.6 -17.8 0.7 -10.6 0.6 -7.1 0.6 15.1 0.6 3.8 0.6 -5.1 0.6 6.3 0.7 6.7 0.6 -10.3 0.6 7.9 0.6 5.7 0.6 -13 0.7 -8 0.6 9.4 0.6 2 0.6 14 0.6 -22.2 0.6 -7 0.7 15.5 0.6 1.2 0.6 -2.9 0.6 9.7 0.6 -3 0.6 7.4 0.7 -14.4 0.6 2.5 0.6 5.3 0.6 -6 0.6 13.5 0.7 -5.8 0.6 -4.4 0.6 15.2 0.6 -6.6 0.6 1.9 0.6 -1.9 0.7 -9.5 0.6 -0.6 0.6 3 0.6 -10.9 0.6 6.1 0.6 14.8 0.7 -5.6 0.6 -14.8 0.6 32.6 0.6 -29.9 0.6 19.1 0.7 0.4 0.6 6.3 0.6 -23.8 0.6 12.7 0.6 -1.4 0.6 10.1 0.7 -6.5 0.6 3 0.6 -0.7 0.6 14.7 0.6 -13.2 0.6 3.3 0.7 -23.5 0.6 21.5 0.6 -23.1 0.6 28.3 0.6 -6.2 0.6 -12.9 0.7 -5.6 0.6 12.1 0.6 5.8 0.6 -6 0.6 3.8 0.7 1.2 0.6 -3.1 0.6 2.9 0.6 4.4 0.6 9.4 0.6 -7.4 0.7 -12.9 0.6 26.7 0.6 -7.2 0.6 -13.2 0.6 13 0.6 -18.8 0.7 -1.7 0.6 5.6 0.6 21.2 0.6 -13.6 0.6 -0.2 0.7 -0.2 0.6 -4.2 0.6 9.2 0.6 1.3 0.6 13.3 0.6 -26.1 0.7 21.6 0.6 -10.8 0.6 -29.5 0.6 33.5 0.6 5.5 0.6 -2.2 0.7 -8 0.6 -1.7 0.6 -26.3 0.6 25.9 0.6 -2.8 0.7 -15.2 0.6 14 0.6 -7.4 0.6 30.3 0.6 -35.2 0.6 3.1 0.7 -14.9 0.6 25.4 0.6 3.8 0.6 -3.5 0.6 -7 0.6 14.7 0.7 -6.8 0.6 8.5 0.6 -10.5 0.6 -22.6 0.6 21.2 0.6 -13.1 0.7 19.6 0.6 -18.5 0.6 6.7 0.6 3.3 0.6 -21.8 0.7 14.9 0.6 14.8 0.6 -14.9 0.6 5.7 0.6 3.8 0.6 -9.6 0.7 3.1 0.6 5.7 0.6 -5.5 0.6 6.1 0.6 0.2 0.6 -14.1 0.7 -3.4 0.6 37.4 0.6 -3.3 0.6 -13.8 0.6 11.2 0.7 1.2 0.6 -3.4 0.6 -14.7 0.6 -18.9 0.6 0.7 0.6 17 0.7 14.6 0.6 5 0.6 -15.3 0.6 0.1 0.6 12.4 0.6 7.4 0.7 -28.8 0.6 13.3 0.6 -1.9 0.6 -2.8 0.6 0.5 0.7 -2.9 0.6 3.4 0.6 -23 0.6 23.1 0.6 6.2 0.6 -1.4 0.7 0.3 0.6 -5.3 0.6 0.1 0.6 16.8 0.6 -17.1 0.6 0.3 0.7 10.1 0.6 -11 0.6 -17.9 0.6 7.2 0.6 -1.3 0.6 5.2 0.7 -5.7 0.6 14.1 0.6 -4.2 0.6 -1.6 0.6 -10.5 0.7 18 0.6 1.2 0.6 11.9 0.6 -29.5 0.6 4.4 0.6 15.7 0.7 -27.8 0.6 20 0.6 0.9 0.6 0.3 0.6 -19 0.6 15.8 0.7 -19 0.6 32.3 0.6 -16.9 0.6 6.2 0.6 -0.5 0.7 3.2 0.6 0 0.6 4 0.6 -4.7 0.6 3.7 0.6 -14.4 0.7 1 0.6 5.5 0.6 -0.5 0.6 -5.4 0.6 9.4 0.6 11.8 0.7 -3.8 0.6 -9.7 0.6 8.3 0.6 1.1 0.6 19.2 0.7 -43.1 0.6 21.6 0.6 -15.7 0.6 25.8 0.6 -12.4 0.6 5.1 0.7 -3.7 0.6 1.1 0.6 -43.5 0.6 26.4 0.6 14.2 0.6 -16.2 0.7 21.7 0.6 7.6 0.6 -26.8 0.6 7.7 0.6 8.3 0.6 12 0.7 -5.3 0.6 -5.4 0.6 -17.5 0.6 9.6 0.6 1.6 0.7 -9.4 0.6 13.1 0.6 -4.6 0.6 -0.6 0.6 23.9 0.6 -19 0.7 17.3 0.6 -20.4 0.6 5.5 0.6 -10 0.6 9 0.6 18.8 0.7 -11.6 0.6 -18.7 0.6 32.4 0.6 -21.3 0.6 6.5 0.7 1.6 0.6 -17.4 0.6 31 0.6 -3 0.6 -13.9 0.6 6 0.7 -5.6 0.6 -1.9 0.6 4 0.6 -10.3 0.6 13.5 0.6 -0.6 0.7 22.2 0.6 -29 0.6 26.7 0.6 -5.8 0.6 -4 0.7 -8 0.6 25.3 0.6 -3.6 0.6 -13.5 0.6 -0.5 0.6 0.6 0.7 13.2 0.6 -25.6 0.6 10.3 0.6 9 0.6 -22.9 0.6 14.5 0.7 13.3 0.6 -11.3 0.6 5 0.6 -13.3 0.6 20.7 0.6 -13.3 0.7 6.5 0.6 5.3 0.6 -7.9 0.6 14.2 0.6 0.7 0.7 -2.2 0.6 6.2 0.6 -9.7 0.6 -18.9 0.6 29.7 0.6 -3.8 0.7 -14.4 0.6 -3.6 0.6 18.9 0.6 -16.7 0.6 0.9 0.6 -2.8 0.7 30.3 0.6 -30.6 0.6 -16.1 0.6 19.1 0.6 -10.2 0.7 -9.3 0.6 15.2 0.6 -5.6 0.6 13.8 0.6 -9.9 0.6 13.6 0.7 -0.5 0.6 -11.3 0.6 8.4 0.6 13.5 0.6 -14.4 0.6 -19.8 0.7 14.1 0.6 2.3 0.6 9.5 0.6 -16.5 0.6 10.1 0.7 -10.4 0.6 2.6 0.6 -1.6 0.6 3.4 0.6 -0.1 0.6 5 0.7 -7.9 0.6 -5.3 0.6 6 0.6 0.5 0.6 -3.8 0.6 4 0.7 2.3 0.6 18.5 0.6 -28.3 0.6 31.3 0.6 -40.1 0.6 4.8 0.7 18.9 0.6 -10.9 0.6 5.3 0.6 -3.2 0.6 -5.4 0.7 1.7 0.6 7.6 0.6 2.6 0.6 1.6 0.6 -5.3 0.6 -3.1 0.7 14 0.6 -27 0.6 17.5 0.6 14.6 0.6 6.9 0.6 -7.6 0.7 4.5 0.6 -4.8 0.6 -12.2 0.6 -16.4 0.6 13.8 0.7 3.1 0.6 25.1 0.6 -25.2 0.6 1.7 0.6 9.5 0.6 -16 0.7 7.6 0.6 4.4 0.6 -10.9 0.6 2.7 0.6 -15 0.6 3.6 0.7 9.9 0.6 18.4 0.6 -17.9 0.6 -3.2 0.6 3 0.7 14.9 0.6 -19.9 0.6 15.1 0.6 -8 0.6 0.9 0.6 -8.6 0.7 4.6 0.6 10.3 0.6 -14.5 0.6 -0.2 0.6 -15.1 0.6 21.7 0.7 -7.2 0.6 6.7 0.6 -0.2 0.6 -5.9 0.6 3.1 0.6 -4.6 0.7 34.7 0.6 -12 0.6 -0.2 0.6 6 0.6 2.9 0.7 -4.8 0.6 0.2 0.6 20.8 0.6 -46.6 0.6 21.3 0.6 -11.7 0.7 7.3 0.6 -19.2 0.6 11.9 0.6 20.4 0.6 -22.1 0.6 19.9 0.7 -18.8 0.6 10.2 0.6 -13.4 0.6 11.8 0.6 -10 0.7 23.3 0.6 -23.7 0.6 21 0.6 -11.4 0.6 0.2 0.6 22.2 0.7 -18.1 0.6 -2.7 0.6 8 0.6 5.6 0.6 -12.4 0.6 26.5 0.7 -19.6 0.6 -3.3 0.6 -2.6 0.6 7.4 0.6 13.3 0.7 4.7 0.6 -10.8 0.6 -11.7 0.6 5.8 0.6 -21.2 0.6 34.7 0.7 -3.8 0.6 -16.9 0.6 9.3 0.6 -17.3 0.6 29.8 0.6 -21.4 0.7 -0.5 0.6 28.5 0.6 -36.9 0.6 18.3 0.6 -13 0.6 1.9 0.7 2 0.6 -3.7 0.6 25.6 0.6 -7.1 0.6 -17.1 0.7 34.8 0.6 -31.5 0.6 -0.8 0.6 9.5 0.6 -14.8 0.6 27.5 0.7 -23.8 0.6 -2.6 0.6 26 0.6 -22.2 0.6 8.9 0.6 -10.5 0.7 6.3 0.6 8 0.6 -22.5 0.6 22.7 0.6 -10.6 0.7 23.9 0.6 5.2 0.6 -13.3 0.6 -0.3 0.6 4.3 0.6 -0.8 0.7 -27.3 0.6 -0.2 0.6 7.6 0.6 -5.2 0.6 6.9 0.6 4 0.7 -7.6 0.6 12.8 0.6 11.5 0.6 -17.6 0.6 4 0.7 -5.4 0.6 -1.4 0.6 -2.4 0.6 -3.3 0.6 11.8 0.6 8.4 0.7 -13.1 0.6 2.5 0.6 -10 0.6 5.4 0.6 2.2 0.6 -2.2 0.7 2.3 0.6 -7.2 0.6 -2.5 0.6 8.5 0.6 13.1 0.6 -14.7 0.7 -7.1 0.6 6.1 0.6 4.8 0.6 11.8 0.6 0.1 0.7 -15.1 0.6 -1.4 0.6 6.7 0.6 1.5 0.6 -4.5 0.6 14.3 0.7 -12.7 0.6 5.9 0.6 -1.7 0.6 10.8 0.6 -7.5 0.6 3 0.7 12.1 0.6 -12.6 0.6 14.7 0.6 -26.7 0.6 5.5 0.7 -4.4 0.6 -4.2 0.6 10.8 0.6 23.8 0.6 -20.2 0.6 11.2 0.7 -27.9 0.6 14.4 0.6 -9.9 0.6 12.1 0.6 7.5 0.6 -16.3 0.7 15.7 0.6 -16.6 0.6 4.7 0.6 -4.1 0.6 8.4 0.7 -1.8 0.6 -14.2 0.6 15.4 0.6 -3.7 0.6 25.5 0.6 -40.6 0.7 20 0.6 8.1 0.6 11.2 0.6 -9.9 0.6 -16.7 0.6 12.5 0.7 -16.5 0.6 -1.2 0.6 0.4 0.6 0.4 0.6 19.1 0.6 -28.6 0.7 -0.4 0.6 18.5 0.6 -3.4 0.6 1.2 0.6 -9.6 0.7 5.9 0.6 -7.6 0.6 -1.7 0.6 0 0.6 1.9 0.6 -2.3 0.7 -5 0.6 15.9 0.6 -11.3 0.6 -6.9 0.6 -8.2 0.6 8.7 0.7 -11.4 0.6 7 0.6 -1.6 0.6 0.8 0.6 9.1 0.7 -25.2 0.6 38.6 0.6 -11.1 0.6 -7 0.6 -0.1 0.6 13.7 0.7 -9.5 0.6 18.2 0.6 -22.9 0.6 -5.4 0.6 -3 0.6 8.1 0.7 13 0.6 -19.7 0.6 24.1 0.6 -6.6 0.6 -9 0.7 16.4 0.6 -26.1 0.6 -2.3 0.6 16.6 0.6 -0.1 0.6 -1.2 0.7 -0.9 0.6 -8.9 0.6 15.8 0.6 -4.2 0.6 11.3 0.6 -7.2 0.7 -10.3 0.6 13.4 0.6 1 0.6 -1.6 0.6 -9.2 0.6 -0.3 0.7 14.2 0.6 -7.8 0.6 3 0.6 12.7 0.6 1.9 0.7 -3.1 0.6 -7 0.6 18.8 0.6 -21.6 0.6 8.1 0.6 6.3 0.7 -14.4 0.6 4.9 0.6 15.1 0.6 -12.6 0.6 -7.6 0.6 21.6 0.7 -12.9 0.6 -0.5 0.6 15.6 0.6 -28 0.6 5.1 0.7 -0.8 0.6 16.2 0.6 -15.4 0.6 28.1 0.6 -18.8 0.6 -2.7 0.7 3.1 0.6 -7.3 0.6 -3.5 0.6 2.5 0.6 4.7 0.6 -5.2 0.7 5.8 0.6 -5.6 0.6 3.2 0.6 -0.3 0.6 14.2 0.7 5.6 0.6 -2.3 0.6 -18.9 0.6 -2.1 0.6 15.3 0.6 3.7 0.7 -4.6 0.6 -11.7 0.6 4.3 0.6 -2.8 0.6 9 0.6 0.6 0.7 -7.1 0.6 -4.2 0.6 20.7 0.6 -15.1 0.6 6.2 0.6 -2.5 0.7 -1 0.6 5.4 0.6 -13.8 0.6 0.3 0.6 8.1 0.7 -24.3 0.6 18.8 0.6 -3.3 0.6 10 0.6 -4.1 0.6 -4.5 0.7 -5.5 0.6 5.1 0.6 -1.7 0.6 2.8 0.6 1 0.6 -5.7 0.7 8.2 0.6 -7.7 0.6 6.2 0.6 -0.7 0.6 8.9 0.7 -10.6 0.6 11 0.6 -13.5 0.6 -4.9 0.6 9.1 0.6 -11 0.7 11.9 0.6 -1.1 0.6 -0.7 0.6 1.7 0.6 -0.8 0.6 8.1 0.7 -9.8 0.6 -11.7 0.6 9.2 0.6 7.8 0.6 2.6 0.6 -4.1 0.7 -3.8 0.6 -5.6 0.6 18 0.6 -17.4 0.6 -2.8 0.7 -7.3 0.6 30.7 0.6 -14.7 0.6 -10.9 0.6 19.4 0.6 -1.4 0.7 -15.3 0.6 18.8 0.6 -7.4 0.6 5 0.6 8 0.6 -15.3 0.7 21.7 0.6 -21.7 0.6 -2.5 0.6 15.4 0.6 -15.6 0.7 2.4 0.6 8.8 0.6 -11.7 0.6 -5.3 0.6 10.5 0.6 -1.7 0.7 -3.3 0.6 9.5 0.6 -15 0.6 10.4 0.6 -10.4 0.6 7 0.7 -9.7 0.6 9.9 0.6 -6.2 0.6 -1.9 0.6 4.7 0.7 0 0.6 5.9 0.6 -9.7 0.6 6.6 0.6 -3.1 0.6 -1.9 0.7 1.9 0.6 -3.8 0.6 9.6 0.6 -2.5 0.6 1.9 0.6 -12.5 0.7 6.2 0.6 19.3 0.6 -5.9 0.6 -9.6 0.6 2.4 0.6 1.7 0.7 9.4 0.6 5.1 0.6 -12.3 0.6 -3.1 0.6 1.4 0.7 4 0.6 12.9 0.6 -18.3 0.6 10.3 0.6 -17.7 0.6 1.4 0.7 -4.3 0.6 6.9 0.6 16.6 0.6 1 0.6 -9.8 0.6 -5.7 0.7 7.3 0.6 -18.3 0.6 -2.6 0.6 1.5 0.6 5.9 0.7 -10.7 0.6 6.2 0.6 18.3 0.6 -12.4 0.6 -1.4 0.6 -1.3 0.7 11.1 0.6 -0.1 0.6 -6.8 0.6 -3 0.6 -11.8 0.6 2 0.7 4.9 0.6 0.4 0.6 3 0.6 -1.7 0.6 20.6 0.7 -5.8 0.6 -16.9 0.6 14 0.6 -5.6 0.6 -4.7 0.6 0.6 0.7 2.8 0.6 12.2 0.6 -19.8 0.6 0.9 0.6 0.8 0.6 -9.3 0.7 10.1 0.6 -5.6 0.6 8.5 0.6 0 0.6 8.7 0.6 -13.7 0.7 1.5 0.6 8 0.6 10 0.6 -16.5 0.6 5.4 0.7 -1.1 0.6 0.7 0.6 -7.6 0.6 -2.4 0.6 2.1 0.6 0.5 0.7 6.2 0.6 -8.7 0.6 0.7 0.6 2.6 0.6 -1.3 0.6 2.6 0.7 -9 0.6 22.2 0.6 -15.4 0.6 1 0.6 -4.5 0.7 9.9 0.6 2.7 0.6 -7.4 0.6 -2.5 0.6 -1.2 0.6 16 0.7 -10.4 0.6 -5.2 0.6 1.8 0.6 5.2 0.6 -5.1 0.6 1.2 0.7 -0.8 0.6 -1.7 0.6 5 0.6 7.9 0.6 -10.9 0.7 -4.4 0.6 -1.9 0.6 4.6 0.6 -1.2 0.6 -0.6 0.6 8.7 0.7 -2.7 0.6 8.2 0.6 -6.2 0.6 -5.6 0.6 10.5 0.6 -2.9 0.7 6.5 0.6 -16.9 0.6 2 0.6 2.7 0.6 9.7 0.6 -7.2 0.7 -9.1 0.6 2.2 0.6 6.6 0.6 -9.5 0.6 6.1 0.7 3.2 0.6 -0.2 0.6 2.5 0.6 2.8 0.6 -4.9 0.6 -6.2 0.7 13.9 0.6 -1.1 0.6 -8.8 0.6 1.5 0.6 -4.5 0.6 14.1 0.7 -10.3 0.6 4.4 0.6 2 0.6 6.6 0.6 -6.8 0.7 -3.8 0.6 4.1 0.6 4.2 0.6 -8.3 0.6 2.1 0.6 -7.1 0.7 15.9 0.6 -12.8 0.6 9.5 0.6 -1.7 0.6 -0.3 0.6 -0.2 0.7 -6.6 0.6 5 0.6 -4.2 0.6 2.4 0.6 -3.6 0.7 19.1 0.6 -13 0.6 7.1 0.6 -9.3 0.6 13.6 0.6 -12.2 0.7 0.2 0.6 -0.8 0.6 -6.5 0.6 -0.5 0.6 9.8 0.6 -5.6 0.7 5.8 0.6 13.3 0.6 -13.3 0.6 16.1 0.6 -11.8 0.6 -6.6 0.7 8 0.6 4.2 0.6 -2.9 0.6 -6.1 0.6 -0.1 0.7 8.4 0.6 8.3 0.6 -0.7 0.6 -13 0.6 1.1 0.6 2.9 0.7 6.3 0.6 -5.4 0.6 1.3 0.6 -1.4 0.6 -11.3 0.6 7.2 0.7 6.9 0.6 -7.8 0.6 23.3 0.6 -19.7 0.6 9.3 0.7 1.1 0.6 0.6 0.6 -12 0.6 5 0.6 10.7 0.6 -10 0.7 5.2 0.6 -14.8 0.6 16.5 0.6 -2.6 0.6 -2 0.6 -9 0.7 4 0.6 2.7 0.6 -1.3 0.6 -3.4 0.6 14.8 0.7 -2.5 0.6 -9.7 0.6 11.5 0.6 -15 0.6 6.9 0.6 7.8 0.7 -6.2 0.6 -5.8 0.6 1.9 0.6 -2.2 0.6 -2.1 0.6 -0.5 0.7 2.8 0.6 -1.6 0.6 0.9 0.6 -2.8 0.6 7.3 0.6 6 0.7 -7.9 0.6 13.4 0.6 -14.6 0.6 -1.7 0.6 0.3 0.7 -1.9 0.6 -1.5 0.6 3.2 0.6 3.1 0.6 -2.5 0.6 12.3 0.7 -10.8 0.6 -1.4 0.6 -0.6 0.6 3 0.6 -0.9 0.6 1 0.7 2.1 0.6 2.8 0.6 -10.8 0.6 6 0.6 -2.5 0.7 0.6 0.6 -2.2 0.6 6.3 0.6 -0.8 0.6 0.4 0.6 -4.4 0.7 6.9 0.6 -7.1 0.6 -2.4 0.6 10.6 0.6 -5.3 0.6 -4.4 0.7 2.8 0.6 3 0.6 5.8 0.6 -5.7 0.6 -3.5 0.7 0.3 0.6 -1.3 0.6 4 0.6 -2.3 0.6 4.8 0.6 -6.3 0.7 7.1 0.6 -6.3 0.6 1.9 0.6 -0.5 0.6 0 0.6 8.6 0.7 -9.6 0.6 1.1 0.6 0.6 0.6 5.2 0.6 -6.2 0.6 12.8 0.7 -11.5 0.6 1.4 0.6 2.6 0.6 -0.9 0.6 -4.4 0.7 6.4 0.6 4.4 0.6 -7.6 0.6 4.6 0.6 1.3 0.6 7.5 0.7 -10.7 0.6 1.3 0.6 -3.3 0.6 3.7 0.6 -2.9 0.6 -0.5 0.7 -0.3 0.6 7 0.6 -6.4 0.6 6.1 0.6 -5.6 0.7 5.5 0.6 -10.1 0.6 -0.1 0.6 8.1 0.6 4.2 0.6 -9.1 0.7 -5 0.6 12 0.6 -2.6 0.6 -7.2 0.6 8.9 0.6 -0.8 0.7 -9.1 0.6 0.8 0.6 3.8 0.6 -0.8 0.6 4.9 0.7 -4.4 0.6 6.8 0.6 -10.6 0.6 -1.1 0.6 1.1 0.6 -0.7 0.7 3.7 0.6 -2 0.6 7.3 0.6 0.1 0.6 2.2 0.6 -9.8 0.7 -2.7 0.6 2.1 0.6 2.1 0.6 -1.1 0.6 3.5 0.6 -1.2 0.7 -1.8 0.6 -3.8 0.6 5.2 0.6 -5.7 0.6 -4.3 0.7 7.4 0.6 5.4 0.6 -5.9 0.6 -4.4 0.6 4.1 0.6 5.1 0.7 -3.8 0.6 -0.4 0.6 -2.3 0.6 3.6 0.6 -1.4 0.6 9.1 0.7 -5.2 0.6 2.4 0.6 -8.7 0.6 4.3 0.6 3.9 0.7 2.3 0.6 -2.8 0.6 -8.1 0.6 14.4 0.6 -12.8 0.6 0 0.7 0.6 0.6 -2.1 0.6 2.6 0.6 -0.8 0.6 1.3 0.6 -0.8 0.7 2.9 0.6 5.2 0.6 -6.4 0.6 -2.8 0.6 6 0.7 -2.8 0.6 3.5 0.6 -5.7 0.6 3.8 0.6 -3.2 0.6 -1.6 0.7 2.9 0.6 2 0.6 0.8 0.6 -4.3 0.6 7 0.6 0.9 0.7 -3.3 0.6 -2.4 0.6 -1.1 0.6 8 0.6 -7.6 0.6 9.7 0.7 -12.7 0.6 -0.3 0.6 8.5 0.6 -6.3 0.6 9.5 0.7 -7.2 0.6 -0.6 0.6 4.1 0.6 3.6 0.6 -0.9 0.6 -4.4 0.7 0.1 0.6 4.3 0.6 -5.9 0.6 -1.3 0.6 0.5 0.6 17.2 0.7 -8.4 0.6 -4.8 0.6 -3.1 0.6 3.9 0.6 -8.2 0.7 4.1 0.6 4.5 0.6 -3 0.6 -4.4 0.6 2.9 0.6 -0.3 0.7 7.2 0.6 -4.2 0.6 -1.7 0.6 9.3 0.6 -10.5 0.6 6.4 0.7 -3.7 0.6 -1.4 0.6 -1.2 0.6 3.1 0.6 4.7 0.7 -10.6 0.6 6.2 0.6 4.9 0.6 -7.3 0.6 -0.7 0.6 10 0.7 -7.6 0.6 -1.2 0.6 2.8 0.6 -1 0.6 0.4 0.6 0.2 0.7 4.3 0.6 -4.5 0.6 2.9 0.6 -6.5 0.6 2.1 0.6 -2.8 0.7 8.2 0.6 -5.4 0.6 4 0.6 -6.3 0.6 -2 0.7 5.6 0.6 -3.5 0.6 -3.7 0.6 4.3 0.6 -1.2 0.6 8.7 0.7 -7.9 0.6 4.8 0.6 -0.2 0.6 1.6 0.6 -3.5 0.6 0.8 0.7 -0.9 0.6 -6.4 0.6 3.5 0.6 -3.5 0.6 0.2 0.7 3.2 0.6 -5.8 0.6 3.7 0.6 5.2 0.6 -5.4 0.6 3.4 0.7 -6.8 0.6 2.4 0.6 -7.2 0.6 4.3 0.6 1.2 0.6 9.3 0.7 -0.2 0.6 -13.6 0.6 4 0.6 -0.6 0.6 9.8 0.7 -2.7 0.6 -5.2 0.6 3.6 0.6 3.1 0.6 -7.7 0.6 6.6 0.7 -3.5 0.6 0.2 0.6 -8.1 0.6 4.2 0.6 -6.7 0.6 7.5 0.7 -3.2 0.6 6.3 0.6 1.1 0.6 -10.2 0.6 11.6 0.6 -8.4 0.7 3.6 0.6 -3.3 0.6 -1.5 0.6 -0.1 0.6 -0.8 0.7 7.6 0.6 -5.5 0.6 -4.1 0.6 5.7 0.6 -3.1 0.6 4.4 0.7 -4.2 0.6 3.8 0.6 -4 0.6 0.6 0.6 5.8 0.6 1.3 0.7 -3.7 0.6 -1.5 0.6 11.2 0.6 -10.4 0.6 -7.8 0.7 11.4 0.6 -4.7 0.6 -3.8 0.6 10.2 0.6 -0.4 0.6 -6.4 0.7 0.7 0.6 2.5 0.6 5.4 0.6 -9.1 0.6 9.2 0.6 -6.6 0.7 1 0.6 5.2 0.6 -8 0.6 2.6 0.6 -1 0.7 -11.2 0.6 8.2 0.6 1.5 0.6 -1.8 0.6 7.2 0.6 -7.7 0.7 3.5 0.6 -2.6 0.6 0.4 0.6 -7.2 0.6 3 0.6 0.2 0.7 8.8 0.6 -8.9 0.6 4.3 0.6 -1.8 0.6 -5.4 0.6 -1.1 0.7 3.3 0.6 2.4 0.6 4.7 0.6 -6.8 0.6 -2.7 0.7 4.8 0.6 -4.6 0.6 10.3 0.6 -8.3 0.6 1.7 0.6 8.2 0.7 -7.2 0.6 -5.1 0.6 5.9 0.6 -4.4 0.6 -2.5 0.6 1.5 0.7 -1.9 0.6 5.6 0.6 -3.6 0.6 1.2 0.6 6 0.7 -5.3 0.6 -0.3 0.6 1.8 0.6 -2.2 0.6 2.5 0.6 -2.6 0.7 4.4 0.6 -6.1 0.6 -1.5 0.6 0.9 0.6 -5.4 0.6 6.1 0.7 2.7 0.6 5.9 0.6 -6.5 0.6 4.9 0.6 -11.1 0.7 10.7 0.6 -4.1 0.6 2.5 0.6 -5.6 0.6 3.3 0.6 -0.4 0.7 -1.4 0.6 1 0.6 6.5 0.6 -11.3 0.6 3.4 0.6 2.2 0.7 4.3 0.6 -8.4 0.6 -0.6 0.6 -1.3 0.6 7.4 0.6 -2.2 0.7 0.3 0.6 0.6 0.6 -5.2 0.6 10.2 0.6 -0.8 0.7 -7.4 0.6 1.1 0.6 0.4 0.6 0.4 0.6 10.5 0.6 -2.8 0.7 -8.1 0.6 12.6 0.6 -7.9 0.6 -0.9 0.6 -3.4 0.6 -0.3 0.7 1 0.6 12.4 0.6 -14.4 0.6 1.3 0.6 5.4 0.7 -3.6 0.6 -3.4 0.6 15.4 0.6 -12.3 0.6 -1.1 0.6 1.8 0.7 2.5 0.6 1.1 0.6 2.3 0.6 -4 0.6 -3.3 0.6 8.6 0.7 -6.1 0.6 -2.3 0.6 4.3 0.6 2.9 0.6 -7.1 0.7 0.2 0.6 1.3 0.6 -1.4 0.6 -0.1 0.6 4.4 0.6 0 0.7 -10.1 0.6 13.2 0.6 -1.2 0.6 -7.9 0.6 8.9 0.6 -9.1 0.7 10.8 0.6 -8.7 0.6 3.4 0.6 -0.9 0.6 2 0.6 -6.9 0.7 10.9 0.6 -4 0.6 -2.9 0.6 4.3 0.6 -5.8 0.7 9.2 0.6 -3.5 0.6 3.9 0.6 -11.4 0.6 3 0.6 -6 0.7 6.6 0.6 -3.3 0.6 0.1 0.6 7.2 0.6 -5.1 0.6 5.5 0.7 -8.2 0.6 0.7 0.6 3.5 0.6 -7.9 0.6 3.3 0.7 2.5 0.6 -5.4 0.6 6.9 0.6 -3.6 0.6 6.4 0.6 -5 0.7 8.1 0.6 -11.6 0.6 9.5 0.6 -9.7 0.6 11.2 0.6 -5.8 0.7 -6.3 0.6 8.5 0.6 -4.8 0.6 1.2 0.6 0.9 0.7 3.8 0.6 -5 0.6 4.6 0.6 -5.8 0.6 2 0.6 4.9 0.7 3.8 0.6 -6.2 0.6 -1.1 0.6 2.6 0.6 0.8 0.6 -5.6 0.7 16.2 0.6 -14.7 0.6 -2.1 0.6 4.3 0.6 2.6 0.6 -1.7 0.7 -2.7 0.6 1.9 0.6 2.4 0.6 -5.2 0.6 -0.4 0.7 3.8 0.6 -1.1 0.6 -4.8 0.6 15.1 0.6 -7.3 0.6 2.7 0.7 -2.6 0.6 -8.5 0.6 12.1 0.6 -13.6 0.6 1.8 0.6 5 0.7 -3" stroke="#ff00ff"/>
<path d="M211.5 742.0l0.6 -42.8 0.6 -4.3 0.7 -4.4 0.6 -4.3 0.6 -1.1 0.6 -0.9 0.6 -0.9 0.6 -1 0.7 -0.9 0.6 -0.9 0.6 -0.6 0.6 -0.2 0.6 -0.3 0.6 -0.2 0.7 -0.2 0.6 -0.3 0.6 -0.2 0.6 -0.2 0.6 -0.3 0.7 -0.2 0.6 -0.2 0.6 -0.3 0.6 -0.2 0.6 -0.5 0.6 -0.9 0.7 -0.8 0.6 -0.8 0.6 -0.8 0.6 -0.8 0.6 -0.9 0.6 -0.8 0.7 -0.8 0.6 -0.8 0.6 -2.6 0.6 -2.9 0.6 -2.9 0.6 -3 0.7 -2.9 0.6 -2.9 0.6 -2.7 0.6 -2 0.6 -2 0.7 -2 0.6 -2 0.6 -2 0.6 -2 0.6 -4.1 0.6 -4.5 0.7 -4.6 0.6 -4.5 0.6 -4.5 0.6 -4.6 0.6 -4.6 0.6 -4.6 0.7 -4.6 0.6 -4.8 0.6 -5 0.6 -4.9 0.6 -5 0.7 -5 0.6 -5.1 0.6 -5.1 0.6 -4.8 0.6 -4.7 0.6 -4.6 0.7 -4.6 0.6 -4.7 0.6 -4.6 0.6 -4.6 0.6 -4.7 0.6 -4.6 0.7 -4.6 0.6 -4.7 0.6 -4.6 0.6 -4.6 0.6 -11.2 0.7 -14.1 0.6 -14 0.6 -14.1 0.6 -14 0.6 -14 0.6 -14.1 0.7 -10.4 0.6 -7.5 0.6 -7.3 0.6 -7.7 0.6 -7.9 0.6 -7.4 0.7 -8.9 0.6 -7.8 0.6 -9 0.6 -8.9 0.6 -4.1 0.6 -6.7 0.7 -4.5 0.6 -3.3 0.6 -6.8 0.6 -2.7 0.6 -2.1 0.7 -2.7 0.6 -2.2 0.6 -1.7 0.6 -5 0.6 0.1 0.6 -0.7 0.7 -4.8 0.6 -2.1 0.6 -5 0.6 5.3 0.6 -0.7 0.6 -4.4 0.7 3.8 0.6 -2.7 0.6 -2.7 0.6 -5.2 0.6 -4.3 0.7 3.6 0.6 0.7 0.6 -3.5 0.6 0.3 0.6 -0.8 0.6 5.7 0.7 -9.1 0.6 5.4 0.6 1 0.6 4.6 0.6 -0.7 0.6 -3.4 0.7 0.6 0.6 -4 0.6 9.7 0.6 -2.8 0.6 -4.2 0.7 -3.4 0.6 -3.2 0.6 10 0.6 -7.7 0.6 4.9 0.6 9 0.7 -15 0.6 4.7 0.6 6.1 0.6 3.2 0.6 -4.2 0.6 8.4 0.7 -2.1 0.6 1.1 0.6 2.5 0.6 0 0.6 6 0.6 -5.4 0.7 3.1 0.6 -13.8 0.6 5.2 0.6 -9.6 0.6 -3.8 0.7 -1.8 0.6 9.4 0.6 -5 0.6 -6.8 0.6 12.8 0.6 -2.8 0.7 -4.5 0.6 0.6 0.6 -0.3 0.6 -3.9 0.6 17.7 0.6 -11.9 0.7 4.8 0.6 -1.2 0.6 -1.4 0.6 -3.9 0.6 6.7 0.7 -8.8 0.6 -0.4 0.6 1.4 0.6 8.1 0.6 -8.4 0.6 0.1 0.7 5.7 0.6 -9.6 0.6 7.2 0.6 5.3 0.6 -1.5 0.6 -4.2 0.7 6.1 0.6 -7.9 0.6 -1 0.6 -6.6 0.6 8.3 0.7 3.6 0.6 -6.4 0.6 10.5 0.6 -1 0.6 0 0.6 -5.9 0.7 8 0.6 -2.1 0.6 -12.7 0.6 8.3 0.6 0.6 0.6 -9.2 0.7 13.8 0.6 6.7 0.6 -4.4 0.6 -5.3 0.6 1.4 0.6 5.8 0.7 -8.2 0.6 8.1 0.6 0.3 0.6 0.4 0.6 8.9 0.7 -14.7 0.6 13.8 0.6 -6 0.6 1.5 0.6 -7.6 0.6 8.3 0.7 -3.4 0.6 -11.1 0.6 8.8 0.6 -0.2 0.6 -2.3 0.6 6.1 0.7 -2.2 0.6 13.4 0.6 -4.1 0.6 -8.2 0.6 7.8 0.7 0.1 0.6 -13.2 0.6 -7.1 0.6 8.5 0.6 6.2 0.6 -11.3 0.7 2.3 0.6 2 0.6 0.5 0.6 -1.7 0.6 -3.3 0.6 -2.4 0.7 -0.5 0.6 7.1 0.6 0.9 0.6 -7.8 0.6 -2.6 0.7 7 0.6 -0.7 0.6 -9.5 0.6 -3.7 0.6 5.9 0.6 3.6 0.7 2.5 0.6 -0.7 0.6 -11.2 0.6 5.6 0.6 -3 0.6 -3 0.7 16.8 0.6 -9.8 0.6 2.5 0.6 -2.4 0.6 5.6 0.6 2.2 0.7 -9.4 0.6 -0.2 0.6 -3.7 0.6 -2.2 0.6 3.1 0.7 3.4 0.6 -3.4 0.6 -0.1 0.6 -5.6 0.6 9.8 0.6 -1.9 0.7 5.2 0.6 -8.6 0.6 -2.6 0.6 -5.8 0.6 8.3 0.6 3.3 0.7 2.5 0.6 -8.8 0.6 6.6 0.6 10.1 0.6 -5.4 0.7 -1.3 0.6 -0.2 0.6 -5.5 0.6 0.1 0.6 6.6 0.6 4.9 0.7 0.3 0.6 -5.5 0.6 1.3 0.6 0 0.6 1.4 0.6 -6 0.7 6 0.6 4.5 0.6 -6.7 0.6 3.7 0.6 1.1 0.7 1.5 0.6 3.6 0.6 1 0.6 1.9 0.6 2.2 0.6 -3.5 0.7 5.9 0.6 -9.8 0.6 2.2 0.6 1.1 0.6 -6.4 0.6 -6.1 0.7 1.6 0.6 9.9 0.6 -9 0.6 -4.7 0.6 12.1 0.6 -5 0.7 -2.8 0.6 -3.4 0.6 5.7 0.6 -2.8 0.6 3 0.7 -3.1 0.6 3.3 0.6 3.5 0.6 -5.1 0.6 2 0.6 -1.6 0.7 0.5 0.6 2.5 0.6 -0.4 0.6 -11.6 0.6 12.2 0.6 -8.7 0.7 -0.7 0.6 4.3 0.6 -0.2 0.6 5.8 0.6 -2.8 0.7 1.1 0.6 4 0.6 3.1 0.6 -9.2 0.6 -0.8 0.6 -4.7 0.7 -0.7 0.6 6.7 0.6 1.7 0.6 0.3 0.6 4.2 0.6 0.4 0.7 5.7 0.6 0.2 0.6 -12.5 0.6 9.3 0.6 -2.1 0.7 -6.4 0.6 1.7 0.6 -4.9 0.6 -6 0.6 7.4 0.6 -7.3 0.7 5.5 0.6 -6.2 0.6 2.2 0.6 5.7 0.6 -2.9 0.6 -5.9 0.7 3.9 0.6 4.2 0.6 0.9 0.6 -5 0.6 6.4 0.6 -5.4 0.7 2.1 0.6 5.4 0.6 -2.4 0.6 0.1 0.6 -1.2 0.7 -7.6 0.6 11.8 0.6 2.2 0.6 -1.4 0.6 7.6 0.6 -5.2 0.7 3.3 0.6 -1.5 0.6 -9.2 0.6 -1 0.6 4.1 0.6 2.1 0.7 1.2 0.6 -4.7 0.6 -1.7 0.6 13.5 0.6 -8.3 0.7 -0.9 0.6 6.8 0.6 -9.3 0.6 -9.1 0.6 10 0.6 -4.7 0.7 8.5 0.6 -12 0.6 6.7 0.6 3.2 0.6 -1 0.6 -3.3 0.7 1.6 0.6 -3.4 0.6 0.1 0.6 -0.9 0.6 5.1 0.7 2.6 0.6 -3.9 0.6 -5 0.6 -3.3 0.6 0.7 0.6 8 0.7 -6.9 0.6 -4.5 0.6 0.7 0.6 5.8 0.6 -5.6 0.6 2.8 0.7 2.2 0.6 -2.3 0.6 9.3 0.6 -9.8 0.6 5.3 0.6 5 0.7 -4.8 0.6 -0.5 0.6 2.2 0.6 1 0.6 -2.1 0.7 -0.2 0.6 1.5 0.6 0.2 0.6 6.1 0.6 -7.2 0.6 3.8 0.7 -3.9 0.6 -2.6 0.6 -0.4 0.6 5.4 0.6 -6.7 0.6 5.8 0.7 -1.2 0.6 5.7 0.6 -9.7 0.6 5 0.6 2.2 0.7 -3.9 0.6 -3.5 0.6 5 0.6 -0.6 0.6 -1.8 0.6 4.4 0.7 -1.5 0.6 2.8 0.6 2 0.6 -3 0.6 -1.5 0.6 3 0.7 -2.2 0.6 -6.1 0.6 6.3 0.6 0.6 0.6 -2.2 0.7 -4.2 0.6 7 0.6 -3.7 0.6 4.6 0.6 0.3 0.6 5 0.7 -3.9 0.6 -0.2 0.6 4.7 0.6 -9 0.6 5.4 0.6 0.7 0.7 -10.7 0.6 5.1 0.6 4.5 0.6 1.7 0.6 -6.1 0.6 -1.9 0.7 1.4 0.6 6.8 0.6 -1.9 0.6 -3.3 0.6 2.6 0.7 -3.9 0.6 5.8 0.6 -7.4 0.6 4.3 0.6 6.4 0.6 -5.5 0.7 -1.7 0.6 4.3 0.6 6.6 0.6 -7.1 0.6 3.7 0.6 -9.4 0.7 2.1 0.6 3.7 0.6 -2.5 0.6 -3.1 0.6 -5.2 0.7 8.7 0.6 0.4 0.6 -2.3 0.6 -8.2 0.6 1.2 0.6 2.4 0.7 -1.3 0.6 6.4 0.6 -9.2 0.6 2.8 0.6 -4.2 0.6 -1.2 0.7 9.3 0.6 -2.5 0.6 -2.8 0.6 3.6 0.6 -6.2 0.7 9.4 0.6 -8.8 0.6 -1.6 0.6 1.5 0.6 2.5 0.6 0.2 0.7 0.8 0.6 1.3 0.6 -1.2 0.6 2.1 0.6 -10.6 0.6 9.7 0.7 0.3 0.6 -0.7 0.6 -1.7 0.6 0.3 0.6 -0.1 0.6 -4.6 0.7 3 0.6 5.8 0.6 1.2 0.6 -6.5 0.6 -0.3 0.7 -2.7 0.6 2.8 0.6 -0.1 0.6 0.3 0.6 -0.4 0.6 -10.8 0.7 0.1 0.6 4.1 0.6 -2.3 0.6 2 0.6 3.1 0.6 -7.4 0.7 1.2 0.6 -3.2 0.6 -1.7 0.6 0.5 0.6 1.8 0.7 -2.2 0.6 -2.9 0.6 4.6 0.6 -1 0.6 -6.2 0.6 6.1 0.7 -1.9 0.6 0 0.6 2.7 0.6 5.5 0.6 -9.7 0.6 6.5 0.7 -8 0.6 7.5 0.6 3 0.6 -9.7 0.6 9.5 0.7 -1.2 0.6 -1.8 0.6 0.8 0.6 0.4 0.6 -1.3 0.6 -0.3 0.7 4.4 0.6 -0.3 0.6 -3.4 0.6 5 0.6 3.8 0.6 2.1 0.7 -2.8 0.6 -5.3 0.6 5.7 0.6 0.1 0.6 1.7 0.6 -2.1 0.7 5.5 0.6 0.8 0.6 -7.7 0.6 1.2 0.6 -0.5 0.7 3.9 0.6 0.8 0.6 -14 0.6 11.8 0.6 -3.2 0.6 -8.4 0.7 8.9 0.6 -1.7 0.6 -2.4 0.6 0.2 0.6 -4.9 0.6 4.9 0.7 -5.3 0.6 2.2 0.6 2.3 0.6 -3 0.6 -0.1 0.7 3.8 0.6 0.3 0.6 -1 0.6 -3.6 0.6 5.8 0.6 1.3 0.7 -7.3 0.6 2.2 0.6 -9 0.6 5.6 0.6 -2 0.6 5.3 0.7 -1.6 0.6 -4.6 0.6 8.5 0.6 -6.7 0.6 8.4 0.7 0.9 0.6 -1.6 0.6 -4.4 0.6 1.4 0.6 -5.8 0.6 5.7 0.7 -0.4 0.6 -0.6 0.6 -5.7 0.6 7.5 0.6 -4.2 0.6 -2.2 0.7 5 0.6 -4.1 0.6 1.7 0.6 2.8 0.6 6.8 0.6 3.7 0.7 -15.2 0.6 1.8 0.6 -0.4 0.6 1 0.6 0.5 0.7 -3.3 0.6 6.2 0.6 -3 0.6 -1.9 0.6 4.2 0.6 0.5 0.7 -1.7 0.6 4.1 0.6 -4.1 0.6 -2.8 0.6 1.6 0.6 5.1 0.7 -3.7 0.6 5.1 0.6 -7.1 0.6 2.3 0.6 3.4 0.7 -1.2 0.6 -2.9 0.6 -0.4 0.6 4.9 0.6 0.1 0.6 -0.4 0.7 -5.2 0.6 -1.5 0.6 0.2 0.6 -0.4 0.6 4.2 0.6 -2.7 0.7 -4.3 0.6 5.3 0.6 -3.4 0.6 2.3 0.6 -0.9 0.7 5.6 0.6 -4.7 0.6 -0.8 0.6 4.4 0.6 -1.1 0.6 -7.6 0.7 6.1 0.6 -0.9 0.6 1.6 0.6 0 0.6 -1.6 0.6 1 0.7 4.7 0.6 -0.6 0.6 1.9 0.6 -2.7 0.6 1 0.6 0.2 0.7 -0.8 0.6 -0.1 0.6 1.5 0.6 -7.2 0.6 -2.1 0.7 -2.5 0.6 5.6 0.6 -1.2 0.6 0.3 0.6 1.9 0.6 -3.1 0.7 2.4 0.6 -0.3 0.6 -2.7 0.6 -6.7 0.6 10.5 0.6 -2.8 0.7 1.1 0.6 2.8 0.6 -8.3 0.6 7 0.6 -5.6 0.7 3 0.6 -0.3 0.6 -2.2 0.6 1.1 0.6 -2.7 0.6 3.3 0.7 -4.1 0.6 7.8 0.6 -3.3 0.6 -1.6 0.6 -2 0.6 7.1 0.7 -6.3 0.6 3.1 0.6 -4.9 0.6 3.7 0.6 -6.9 0.7 5.7 0.6 -5.2 0.6 1.6 0.6 5.5 0.6 -2.4 0.6 -4.2 0.7 0.1 0.6 4.4 0.6 -7.8 0.6 2.4 0.6 -3.5 0.6 3.7 0.7 0.6 0.6 1.2 0.6 -0.6 0.6 6.5 0.6 0.8 0.6 -3 0.7 5.7 0.6 -5 0.6 1.6 0.6 5.6 0.6 -8.4 0.7 -0.2 0.6 -4.5 0.6 4.2 0.6 -1.4 0.6 2.7 0.6 -2.1 0.7 7.7 0.6 -1.8 0.6 1.5 0.6 -2.8 0.6 -2.6 0.6 4.6 0.7 -2.3 0.6 -0.9 0.6 8.6 0.6 -3.6 0.6 0.3 0.7 -0.1 0.6 0.2 0.6 1.3 0.6 -0.2 0.6 -2.2 0.6 -0.1 0.7 -1.1 0.6 2.2 0.6 1.1 0.6 0.3 0.6 -4.6 0.6 -1 0.7 -0.5 0.6 9.3 0.6 -3.2 0.6 -4.5 0.6 -2.7 0.7 7.7 0.6 -3.1 0.6 1.2 0.6 -6.3 0.6 5.7 0.6 -6.3 0.7 -4.2 0.6 6.3 0.6 -4 0.6 2.4 0.6 -6 0.6 2 0.7 -2 0.6 5 0.6 -0.2 0.6 1.2 0.6 -3.2 0.6 5.5 0.7 -6.5 0.6 6.9 0.6 -2 0.6 2.1 0.6 -5.2 0.7 6.7 0.6 -8 0.6 4.1 0.6 -0.3 0.6 7 0.6 -9.3 0.7 2.1 0.6 -3.3 0.6 0.7 0.6 1.7 0.6 -0.7 0.6 -0.9 0.7 1 0.6 0.9 0.6 1.7 0.6 3 0.6 -3.9 0.7 -2.1 0.6 -1.6 0.6 3.6 0.6 2.2 0.6 -4 0.6 5.1 0.7 -3.5 0.6 -6.8 0.6 11.7 0.6 -2.8 0.6 -7 0.6 -1.1 0.7 5.4 0.6 -3.2 0.6 2.3 0.6 -3.4 0.6 5.2 0.7 -5.3 0.6 2.4 0.6 1.8 0.6 -3.4 0.6 2.4 0.6 -1.8 0.7 -2.3 0.6 -0.1 0.6 -5.6 0.6 4 0.6 10.8 0.6 -7.8 0.7 -3.8 0.6 3.4 0.6 0.4 0.6 8.3 0.6 -9 0.6 0.9 0.7 5.5 0.6 -8.5 0.6 2.3 0.6 0.9 0.6 3 0.7 6.7 0.6 2 0.6 -1.7 0.6 6.5 0.6 -11.2 0.6 8.9 0.7 -4.3 0.6 3.1 0.6 -3.2 0.6 -5.1 0.6 9.2 0.6 1 0.7 -1.2 0.6 -3.1 0.6 10.3 0.6 -12.9 0.6 8 0.7 -2.3 0.6 0.7 0.6 6 0.6 -4.8 0.6 3.6 0.6 -0.3 0.7 3.3 0.6 -2.9 0.6 -0.8 0.6 -3.3 0.6 -0.5 0.6 -4.5 0.7 4.2 0.6 0.6 0.6 -4.1 0.6 2.6 0.6 -4.1 0.6 2.8 0.7 -1.5 0.6 3 0.6 3.5 0.6 -2.4 0.6 -7.5 0.7 9.3 0.6 -5.3 0.6 1.4 0.6 -2.2 0.6 -1.2 0.6 -4.4 0.7 -0.7 0.6 -2.8 0.6 1.3 0.6 1.2 0.6 -8.6 0.6 4.7 0.7 2 0.6 -6 0.6 2 0.6 1.1 0.6 -0.8 0.7 -0.4 0.6 2 0.6 0.9 0.6 -6.3 0.6 2.9 0.6 0.8 0.7 -6.6 0.6 0.2 0.6 2.7 0.6 -1.6 0.6 1.1 0.6 -3.6 0.7 2 0.6 4.2 0.6 -10.1 0.6 1.9 0.6 5 0.7 0.8 0.6 0.9 0.6 2.9 0.6 0.1 0.6 -4.1 0.6 5.1 0.7 -2.4 0.6 0.6 0.6 -2.7 0.6 6 0.6 4.2 0.6 -2.2 0.7 4.8 0.6 -4.6 0.6 -0.7 0.6 2.1 0.6 1.2 0.6 3.2 0.7 -0.2 0.6 -1.1 0.6 -3 0.6 0.7 0.6 1.9 0.7 -1.3 0.6 1.9 0.6 -2.6 0.6 1.4 0.6 1.8 0.6 -0.4 0.7 3.2 0.6 4 0.6 -4.3 0.6 2.3 0.6 -7.4 0.6 6.8 0.7 -0.6 0.6 7.1 0.6 -1 0.6 4.3 0.6 -7 0.7 4.7 0.6 2 0.6 -4.5 0.6 5.1 0.6 -9.1 0.6 5 0.7 -2.9 0.6 1.1 0.6 -8.2 0.6 8.1 0.6 1.3 0.6 -9 0.7 4.8 0.6 -8.2 0.6 5.8 0.6 0.7 0.6 -5 0.7 10.1 0.6 -5.5 0.6 -3.1 0.6 0.8 0.6 0.7 0.6 -4.3 0.7 2.6 0.6 0.1 0.6 -5.7 0.6 2.5 0.6 0.2 0.6 -0.7 0.7 -0.5 0.6 -3.2 0.6 -5.9 0.6 7.1 0.6 2.9 0.6 -1.7 0.7 0.9 0.6 6.5 0.6 -7.2 0.6 -4.1 0.6 4.1 0.7 0.3 0.6 -3.8 0.6 8.8 0.6 -7.8 0.6 4.7 0.6 4.6 0.7 1.5 0.6 -2.8 0.6 2 0.6 -4 0.6 4.3 0.6 5 0.7 -6.3 0.6 6.9 0.6 1.9 0.6 3.6 0.6 -1.5 0.7 -0.6 0.6 -0.5 0.6 -4.4 0.6 -0.1 0.6 1.8 0.6 -2.9 0.7 5.4 0.6 1.3 0.6 -1.5 0.6 -4.1 0.6 1.9 0.6 -5 0.7 0.9 0.6 1.4 0.6 -7.2 0.6 0.9 0.6 2.2 0.7 7.9 0.6 -6.4 0.6 -0.6 0.6 2.7 0.6 -6.1 0.6 -4.6 0.7 3.7 0.6 -1 0.6 6.4 0.6 -5 0.6 0.3 0.6 2.6 0.7 0.2 0.6 0.2 0.6 1.1 0.6 3.5 0.6 -3.1 0.6 -2.7 0.7 7.1 0.6 -1.6 0.6 -3.7 0.6 2.3 0.6 -2.3 0.7 8.4 0.6 -3.2 0.6 -1.9 0.6 -2 0.6 6.6 0.6 -2.4 0.7 -3 0.6 -2 0.6 7.1 0.6 -6.4 0.6 5.9 0.6 -0.1 0.7 -7.5 0.6 3.6 0.6 2 0.6 -4.4 0.6 -4.3 0.7 6.4 0.6 3.1 0.6 -5.3 0.6 1.3 0.6 -5.6 0.6 1.9 0.7 2.9 0.6 -4.6 0.6 1.5 0.6 3.2 0.6 -1 0.6 0.4 0.7 0.1 0.6 5.4 0.6 -6.2 0.6 -2.9 0.6 -3.2 0.7 -1.3 0.6 2.2 0.6 7.3 0.6 -4.4 0.6 -5.6 0.6 7 0.7 -4.5 0.6 -4 0.6 3.6 0.6 -4.6 0.6 -0.1 0.6 -0.4 0.7 2.3 0.6 -4.6 0.6 11.1 0.6 2.4 0.6 -6 0.6 0.6 0.7 -0.1 0.6 -3.3 0.6 -0.8 0.6 3.1 0.6 -0.4 0.7 -4.6 0.6 0.5 0.6 -2.3 0.6 -0.9 0.6 2.3 0.6 -2.7 0.7 2.1 0.6 5 0.6 1.7 0.6 0.4 0.6 1 0.6 -6.3 0.7 3 0.6 -5.2 0.6 6.9 0.6 -1.9 0.6 2.2 0.7 -1.4 0.6 0.4 0.6 0.7 0.6 -0.3 0.6 2.8 0.6 -0.1 0.7 -2.6 0.6 -5.3 0.6 1.6 0.6 2.7 0.6 1.2 0.6 0.5 0.7 -2.3 0.6 -4.2 0.6 -3.2 0.6 7.9 0.6 -2 0.7 -0.5 0.6 -8.8 0.6 5.4 0.6 1.3 0.6 -4.4 0.6 1.3 0.7 -1.6 0.6 -0.9 0.6 3.2 0.6 -1.2 0.6 4.8 0.6 -2.2 0.7 -4 0.6 3.2 0.6 -4.7 0.6 -7.2 0.6 5.7 0.6 -1.7 0.7 5.5 0.6 -7.4 0.6 5.2 0.6 -2.2 0.6 -7.3 0.7 11.3 0.6 -5.4 0.6 2.7 0.6 -5.6 0.6 2.1 0.6 8.1 0.7 -5.8 0.6 -8.1 0.6 14.4 0.6 -1.5 0.6 -1.3 0.6 4.3 0.7 0.8 0.6 -2.1 0.6 7.5 0.6 -1.4 0.6 3.7 0.7 -3.7 0.6 0.2 0.6 0.6 0.6 -3.6 0.6 -0.4 0.6 4.5 0.7 -3.8 0.6 3.2 0.6 -2 0.6 -0.9 0.6 4.7 0.6 -4.5 0.7 -0.3 0.6 2.6 0.6 4.5 0.6 -1.6 0.6 -6.1 0.7 0.2 0.6 -0.1 0.6 -0.5 0.6 1.6 0.6 1.6 0.6 -2.5 0.7 -4.1 0.6 0.6 0.6 -0.1 0.6 3 0.6 5.5 0.6 -5.5 0.7 5.1 0.6 1.4 0.6 8 0.6 -9.6 0.6 3.9 0.6 2.7 0.7 1.1 0.6 3 0.6 -2.3 0.6 3.6 0.6 -0.4 0.7 -0.3 0.6 -3.6 0.6 9.2 0.6 -8.5 0.6 2.3 0.6 0.3 0.7 -4.1 0.6 -2.4 0.6 6 0.6 -5.2 0.6 7.3 0.6 4.8 0.7 -4.4 0.6 -13.7 0.6 8.3 0.6 -0.5 0.6 -1.8 0.7 3.5 0.6 -2.9 0.6 1.6 0.6 -3.1 0.6 2.8 0.6 3.8 0.7 2.3 0.6 -6.3 0.6 6.2 0.6 -7 0.6 -0.8 0.6 -1.6 0.7 -0.6 0.6 3.7 0.6 0 0.6 -4.4 0.6 3.3 0.7 -7.3 0.6 4.2 0.6 -0.5 0.6 -9.4 0.6 5.7 0.6 -1.6 0.7 7.2 0.6 -4.9 0.6 2.7 0.6 -3.4 0.6 -7.5 0.6 6.1 0.7 -0.6 0.6 -2.8 0.6 -2.2 0.6 4.5 0.6 -5.1 0.6 3.5 0.7 -1.4 0.6 -1.6 0.6 -1.5 0.6 1.9 0.6 -0.8 0.7 -3.8 0.6 4.5 0.6 2.1 0.6 -1 0.6 -6.9 0.6 7.4 0.7 -0.1 0.6 5 0.6 -2.8 0.6 -0.1 0.6 1.9 0.6 -1 0.7 5 0.6 -8.1 0.6 -1.4 0.6 4.7 0.6 0.9 0.7 -3 0.6 2.1 0.6 3.4 0.6 2.7 0.6 0.8 0.6 3 0.7 -4.1 0.6 -1.7 0.6 2.4 0.6 1.6 0.6 1.1 0.6 -9 0.7 9.4 0.6 -0.6 0.6 2.9 0.6 -4.2 0.6 3.1 0.7 -2.7 0.6 5.9 0.6 0.1 0.6 -7.1 0.6 3.1 0.6 -2.1 0.7 2.9 0.6 -3.3 0.6 3.1 0.6 1 0.6 -2.5 0.6 1.7 0.7 3 0.6 -2.7 0.6 -3.1 0.6 4.7 0.6 0.3 0.6 -2.3 0.7 -3.8 0.6 -1 0.6 -0.7 0.6 0.3 0.6 5.4 0.7 -1.2 0.6 -9.6 0.6 4.4 0.6 2.3 0.6 -3.2 0.6 -3.2 0.7 -2.5 0.6 4.5 0.6 0 0.6 0 0.6 -1.6 0.6 -3.1 0.7 10.8 0.6 -8.4 0.6 1.1 0.6 -3.5 0.6 6.9 0.7 -5.2 0.6 0.9 0.6 8.8 0.6 -4.6 0.6 -1.9 0.6 -5.1 0.7 8.5 0.6 -0.9 0.6 -0.8 0.6 -1.8 0.6 -4.7 0.6 2.3 0.7 4.5 0.6 1 0.6 -0.5 0.6 7.1 0.6 -3.7 0.7 -1.2 0.6 1 0.6 -6.4 0.6 4.3 0.6 3.1 0.6 -10.1 0.7 7.2 0.6 1.3 0.6 -1.5 0.6 1.5 0.6 -6.6 0.6 9.8 0.7 -7.1 0.6 -4.9 0.6 7.5 0.6 -1 0.6 5 0.6 -2.9 0.7 -4.4 0.6 6.7 0.6 -5.1 0.6 -3.3 0.6 7.6 0.7 0.4 0.6 -6 0.6 5.2 0.6 2.8 0.6 -5.3 0.6 -7.2 0.7 9.9 0.6 -1.7 0.6 3.7 0.6 -1 0.6 -1.9 0.6 -2.6 0.7 0.1 0.6 1.8 0.6 -0.9 0.6 4.4 0.6 -0.6 0.7 -4 0.6 5.6 0.6 -3.8 0.6 -0.9 0.6 4.6 0.6 -2.6 0.7 -3 0.6 4.5 0.6 2.9 0.6 -8.6 0.6 2.7 0.6 -5.9 0.7 4.3 0.6 6.2 0.6 -5.9 0.6 -1.3 0.6 2.8 0.7 -2.1 0.6 2.2 0.6 -0.9 0.6 -0.8 0.6 5.4 0.6 -3 0.7 0 0.6 -0.2 0.6 2.2 0.6 2 0.6 -3.5 0.6 3.8 0.7 -4.3 0.6 1.9 0.6 -1 0.6 2.9 0.6 -3.6 0.6 -1.9 0.7 1.9 0.6 -0.7 0.6 -2.3 0.6 5.9 0.6 -6.2 0.7 0.8 0.6 -5.1 0.6 0.8 0.6 0.6 0.6 6.2 0.6 -5.8 0.7 1.8 0.6 -5.5 0.6 3 0.6 0 0.6 3.1 0.6 0 0.7 -6.9 0.6 7.1 0.6 0.2 0.6 -1.3 0.6 -4.1 0.7 7.5 0.6 -11.9 0.6 5.1 0.6 -0.1 0.6 0.8 0.6 -0.2 0.7 -4.4 0.6 6.5 0.6 -10.6 0.6 2 0.6 0.5 0.6 6.2 0.7 -2.2 0.6 -5.7 0.6 11.2 0.6 -6.6 0.6 2.5 0.7 4.2 0.6 -8.4 0.6 1.8 0.6 -3.5 0.6 2.8 0.6 9.1 0.7 -4.2 0.6 3.2 0.6 -3.7 0.6 2.1 0.6 -0.4 0.6 4.5 0.7 -3.3 0.6 -0.5 0.6 0.1 0.6 -2.1 0.6 -0.7 0.6 -4.5 0.7 10.2 0.6 -0.8 0.6 -1 0.6 2.6 0.6 -1.7 0.7 0 0.6 1.4 0.6 -1.4 0.6 2.5 0.6 0.7 0.6 -1.2 0.7 0 0.6 -2.7 0.6 -1 0.6 4.2 0.6 0.7 0.6 -3 0.7 3.9 0.6 1.2 0.6 -3.7 0.6 0.1 0.6 -0.2 0.7 -2.1 0.6 4.9 0.6 -7.2 0.6 9.4 0.6 -7.4 0.6 6.1 0.7 -5 0.6 4.4 0.6 -5.9 0.6 -1.1 0.6 -3.2 0.6 5 0.7 4.2 0.6 -3.9 0.6 -0.9 0.6 -0.2 0.6 -1 0.7 1.7 0.6 -1.2 0.6 -3.7 0.6 4.6 0.6 -3.7 0.6 0.4 0.7 -0.4 0.6 -2.8 0.6 1.6 0.6 2 0.6 7.3 0.6 -8.1 0.7 4.7 0.6 -7.5 0.6 2.8 0.6 7.9 0.6 -3.3 0.6 1.1 0.7 -2 0.6 -2.5 0.6 2.2 0.6 -3.7 0.6 -0.3 0.7 1.8 0.6 -5.1 0.6 0.1 0.6 8.4 0.6 -1.1 0.6 -4 0.7 3.5 0.6 -6.9 0.6 -1.8 0.6 6.4 0.6 -5.8 0.6 -1.4 0.7 -0.3 0.6 6.4 0.6 -3.5 0.6 -10 0.6 3.6 0.7 -12.6 0.6 -6.3 0.6 2 0.6 1.5 0.6 -7 0.6 -6.6 0.7 4.4 0.6 -0.1 0.6 6.6 0.6 0.1 0.6 9.2 0.6 -0.6 0.7 5.1 0.6 7.9 0.6 -2.9 0.6 8.2 0.6 -8.7 0.7 4.5 0.6 1.1 0.6 4.4 0.6 3.9 0.6 -0.2 0.6 4 0.7 -1.4 0.6 3.7 0.6 1.7 0.6 1 0.6 3.1 0.6 -2.7 0.7 -0.6 0.6 -3.7 0.6 0.4 0.6 1.7 0.6 -7.2 0.6 7.7 0.7 -4.6 0.6 2.6 0.6 -4.4 0.6 2.5 0.6 -4.1 0.7 0.7 0.6 -0.5 0.6 3.7 0.6 -4.1 0.6 -0.2 0.6 -5.9 0.7 7.5 0.6 -5 0.6 5.8 0.6 -0.6 0.6 0.7 0.6 -10.3 0.7 3.3 0.6 3 0.6 0.5 0.6 1.4 0.6 -0.2 0.7 0.7 0.6 -1.1 0.6 -4.6 0.6 -2.2 0.6 3.1 0.6 2.1 0.7 -0.2 0.6 -5.1 0.6 5.8 0.6 -0.2 0.6 -0.8 0.6 -5.9 0.7 7.3 0.6 -1 0.6 0.5 0.6 -1.4 0.6 -6.3 0.7 4.2 0.6 2 0.6 -1.6 0.6 -0.9 0.6 -2.9 0.6 -3.5 0.7 2.6 0.6 -6.7 0.6 10.3 0.6 -3.3 0.6 8.8 0.6 -6.3 0.7 3.4 0.6 -0.7 0.6 -2 0.6 7.1 0.6 1.1 0.6 -5.4 0.7 5.8 0.6 -4.4 0.6 -0.7 0.6 4 0.6 1.2 0.7 -5.3 0.6 -1 0.6 0.6 0.6 -1.3 0.6 3.4 0.6 -4.2 0.7 -0.2 0.6 -4.8 0.6 3.9 0.6 -3 0.6 9.2 0.6 -7.7 0.7 0.8" stroke="#008000"/></g>
<g fill="#000" filter="url(#bin)"><line x1="992" y1="493.3" x2="1076" y2="493.3" stroke="#000000" stroke-width="7.5" stroke-linecap="round"/><text transform="translate(1086.50,507.22) scale(0.935,1)" font-size="66.5">0</text><line x1="992" y1="574.2" x2="1076" y2="574.2" stroke="#ff0000" stroke-width="7.5" stroke-linecap="round"/><text transform="translate(1091.30,588.22) scale(0.935,1)" font-size="66.5">0.2%</text><line x1="992" y1="655.1" x2="1076" y2="655.1" stroke="#0000ff" stroke-width="7.5" stroke-linecap="round"/><text transform="translate(1091.30,669.12) scale(0.935,1)" font-size="66.5">0.4%</text><line x1="992" y1="736.0" x2="1076" y2="736.0" stroke="#ff00ff" stroke-width="7.5" stroke-linecap="round"/><text transform="translate(1091.30,750.02) scale(0.935,1)" font-size="66.5">0.6%</text><line x1="992" y1="816.9" x2="1076" y2="816.9" stroke="#008000" stroke-width="7.5" stroke-linecap="round"/><text transform="translate(1091.30,830.92) scale(0.935,1)" font-size="66.5">0.8%</text></g>
</svg>
</body></html>
